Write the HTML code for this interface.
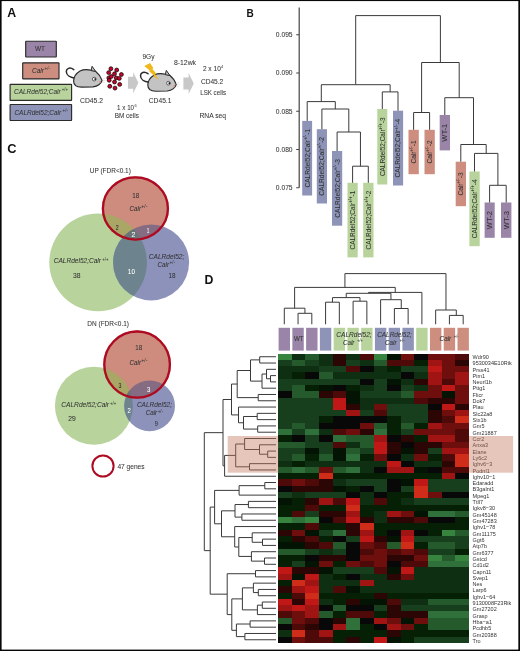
<!DOCTYPE html>
<html><head><meta charset="utf-8"><title>Figure</title>
<style>
html,body{margin:0;padding:0;background:#fff;}
body{width:520px;height:651px;overflow:hidden;}
svg{display:block;font-family:"Liberation Sans", sans-serif;will-change:transform;}
text{paint-order:stroke;}
</style></head><body>
<svg width="520" height="651" viewBox="0 0 520 651">
<defs><clipPath id="cg1"><circle cx="98.1" cy="262.4" r="48.8"/></clipPath><clipPath id="cb1"><circle cx="151.1" cy="262.5" r="38.0"/></clipPath><clipPath id="cg2"><circle cx="93.9" cy="405.8" r="39.0"/></clipPath><clipPath id="cb2"><circle cx="149.6" cy="405.9" r="25.4"/></clipPath></defs>
<rect x="0.5" y="0.5" width="519" height="650" fill="#fff" stroke="#080808" stroke-width="1"/>
<text x="7.3" y="17.3" font-size="12.3" text-anchor="start" fill="#111" font-weight="bold">A</text>
<text x="246.5" y="16.7" font-size="10" text-anchor="start" fill="#111" font-weight="bold">B</text>
<text x="7.2" y="152.8" font-size="12.8" text-anchor="start" fill="#111" font-weight="bold">C</text>
<text x="204.5" y="283.7" font-size="12.3" text-anchor="start" fill="#111" font-weight="bold">D</text>
<rect x="25.7" y="41.2" width="30.599999999999998" height="15.799999999999997" rx="0.4" fill="#9a84a8" stroke="#2b2b2b" stroke-width="1.15"/>
<rect x="22.7" y="62.8" width="36.3" height="16.10000000000001" rx="0.4" fill="#cd8e80" stroke="#2b2b2b" stroke-width="1.15"/>
<rect x="10.1" y="84.3" width="61.49999999999999" height="16.0" rx="0.4" fill="#b8d49c" stroke="#2b2b2b" stroke-width="1.15"/>
<rect x="10.1" y="104.5" width="61.49999999999999" height="16.0" rx="0.4" fill="#8e94b8" stroke="#2b2b2b" stroke-width="1.15"/>
<text x="40.0" y="51.3" font-size="6.9" text-anchor="middle" fill="#333" font-weight="normal" textLength="10.1" lengthAdjust="spacingAndGlyphs" stroke="#333" stroke-width="0.05">WT</text>
<text x="32" y="73" font-size="7.6" fill="#333" stroke="#333" stroke-width="0.05" font-style="italic" textLength="12" lengthAdjust="spacingAndGlyphs">Calr</text><text x="44.5" y="70.2" font-size="5.0" fill="#333" textLength="5.5" lengthAdjust="spacingAndGlyphs">+/-</text>
<text x="14" y="94" font-size="7.4" fill="#333" stroke="#333" stroke-width="0.05" font-style="italic" textLength="46.6" lengthAdjust="spacingAndGlyphs">CALRdel52;Calr</text><text x="61.8" y="91.2" font-size="5.0" fill="#333" textLength="6.2" lengthAdjust="spacingAndGlyphs">+/+</text>
<text x="14.4" y="114.5" font-size="7.4" fill="#333" stroke="#333" stroke-width="0.05" font-style="italic" textLength="46.8" lengthAdjust="spacingAndGlyphs">CALRdel52;Calr</text><text x="62.5" y="111.7" font-size="5.0" fill="#333" textLength="5.5" lengthAdjust="spacingAndGlyphs">+/-</text>
<g transform="translate(0,0) scale(1,1)"><path d="M74.8,78.2 C70,77.6 66.3,75 66.3,71.6 C66.3,68.6 69.6,66.6 73.8,69.6" fill="none" stroke="#2a2a2a" stroke-width="1.5" stroke-linecap="round"/><path d="M73.6,81 C73.7,77.2 76.4,73.2 80,71 C83,69.5 87,69.2 91.4,70.2 L95.5,71.2 C98.5,73.5 100.8,77 102.1,80.5 C101,83.6 98,86.2 93,86.9 L81.5,87.1 C77,87.1 73.6,85 73.6,81 Z" fill="#c3c3c3" stroke="#2a2a2a" stroke-width="1.15" stroke-linejoin="round"/><path d="M91.1,70.6 L92.1,66.3 L95.7,71.4 Z" fill="#c3c3c3" stroke="#2a2a2a" stroke-width="1" stroke-linejoin="round"/><circle cx="94.2" cy="79.1" r="1.85" fill="#f4f4f4" stroke="#2a2a2a" stroke-width="0.7"/><circle cx="95.2" cy="79.1" r="0.95" fill="#1a1a1a"/><circle cx="100.1" cy="81.8" r="0.85" fill="#e0857a"/><path d="M102,79.5 L105,78.2 M102.3,80.6 L105.3,80.6 M102,81.6 L104.8,83" stroke="#c8c8c8" stroke-width="0.45"/></g>
<g transform="translate(74.2,4.1) scale(1,1)"><path d="M74.8,78.2 C70,77.6 66.3,75 66.3,71.6 C66.3,68.6 69.6,66.6 73.8,69.6" fill="none" stroke="#2a2a2a" stroke-width="1.5" stroke-linecap="round"/><path d="M73.6,81 C73.7,77.2 76.4,73.2 80,71 C83,69.5 87,69.2 91.4,70.2 L95.5,71.2 C98.5,73.5 100.8,77 102.1,80.5 C101,83.6 98,86.2 93,86.9 L81.5,87.1 C77,87.1 73.6,85 73.6,81 Z" fill="#c3c3c3" stroke="#2a2a2a" stroke-width="1.15" stroke-linejoin="round"/><path d="M91.1,70.6 L92.1,66.3 L95.7,71.4 Z" fill="#c3c3c3" stroke="#2a2a2a" stroke-width="1" stroke-linejoin="round"/><circle cx="94.2" cy="79.1" r="1.85" fill="#f4f4f4" stroke="#2a2a2a" stroke-width="0.7"/><circle cx="95.2" cy="79.1" r="0.95" fill="#1a1a1a"/><circle cx="100.1" cy="81.8" r="0.85" fill="#e0857a"/><path d="M102,79.5 L105,78.2 M102.3,80.6 L105.3,80.6 M102,81.6 L104.8,83" stroke="#c8c8c8" stroke-width="0.45"/></g>
<circle cx="110.9" cy="68.7" r="1.95" fill="#c4062c" stroke="#140406" stroke-width="0.75"/>
<circle cx="116.7" cy="70.0" r="1.95" fill="#c4062c" stroke="#140406" stroke-width="0.75"/>
<circle cx="108.7" cy="72.6" r="1.95" fill="#c4062c" stroke="#140406" stroke-width="0.75"/>
<circle cx="114.5" cy="73.8" r="1.95" fill="#c4062c" stroke="#140406" stroke-width="0.75"/>
<circle cx="121.4" cy="74.5" r="1.95" fill="#c4062c" stroke="#140406" stroke-width="0.75"/>
<circle cx="108.8" cy="77.9" r="1.95" fill="#c4062c" stroke="#140406" stroke-width="0.75"/>
<circle cx="111.3" cy="76.5" r="1.95" fill="#c4062c" stroke="#140406" stroke-width="0.75"/>
<circle cx="116.2" cy="78.0" r="1.95" fill="#c4062c" stroke="#140406" stroke-width="0.75"/>
<circle cx="119.3" cy="78.4" r="1.95" fill="#c4062c" stroke="#140406" stroke-width="0.75"/>
<circle cx="109.2" cy="80.3" r="1.95" fill="#c4062c" stroke="#140406" stroke-width="0.75"/>
<circle cx="114.5" cy="82.0" r="1.95" fill="#c4062c" stroke="#140406" stroke-width="0.75"/>
<circle cx="119.7" cy="84.4" r="1.95" fill="#c4062c" stroke="#140406" stroke-width="0.75"/>
<circle cx="109.8" cy="86.3" r="1.95" fill="#c4062c" stroke="#140406" stroke-width="0.75"/>
<circle cx="115.0" cy="88.1" r="1.95" fill="#c4062c" stroke="#140406" stroke-width="0.75"/>
<path d="M128,76.8 L133.2,76.8 L133.2,72.3 L138.4,82.8 L133.2,93.3 L133.2,88.8 L128,88.8 Z" fill="#c8c8c8"/>
<path d="M183.4,77.4 L188.6,77.4 L188.6,72.9 L193.8,83.4 L188.6,93.9 L188.6,89.4 L183.4,89.4 Z" fill="#c8c8c8"/>
<path d="M144.3,66.1 L150.1,62.9 L153.3,68.1 L152.4,69 L156.2,73.6 L155.3,74.4 L158.8,79.9 L153.3,76.2 L153.9,75.3 L149,71.3 L149.8,70.4 Z" fill="#f0b81a"/>
<text x="80" y="102.5" font-size="7" text-anchor="start" fill="#333" font-weight="normal" textLength="23" lengthAdjust="spacingAndGlyphs" stroke="#333" stroke-width="0.05">CD45.2</text>
<text x="148.8" y="102.5" font-size="7" text-anchor="start" fill="#333" font-weight="normal" textLength="22.6" lengthAdjust="spacingAndGlyphs" stroke="#333" stroke-width="0.05">CD45.1</text>
<text x="117.1" y="110.1" font-size="6.8" fill="#333" stroke="#333" stroke-width="0.05" textLength="17" lengthAdjust="spacingAndGlyphs">1 x 10</text><text x="134.4" y="106.89999999999999" font-size="4.4" fill="#333" textLength="2.2" lengthAdjust="spacingAndGlyphs">6</text>
<text x="114.7" y="118.2" font-size="7" text-anchor="start" fill="#333" font-weight="normal" textLength="24.2" lengthAdjust="spacingAndGlyphs" stroke="#333" stroke-width="0.05">BM cells</text>
<text x="142.4" y="58.9" font-size="7" text-anchor="start" fill="#333" font-weight="normal" textLength="12.1" lengthAdjust="spacingAndGlyphs" stroke="#333" stroke-width="0.05">9Gy</text>
<text x="174" y="65.2" font-size="6.9" text-anchor="start" fill="#333" font-weight="normal" textLength="22" lengthAdjust="spacingAndGlyphs" stroke="#333" stroke-width="0.05">8-12wk</text>
<text x="202.9" y="71.1" font-size="6.8" fill="#333" stroke="#333" stroke-width="0.05" textLength="17.9" lengthAdjust="spacingAndGlyphs">2 x 10</text><text x="221.1" y="67.89999999999999" font-size="4.4" fill="#333" textLength="2.3" lengthAdjust="spacingAndGlyphs">4</text>
<text x="200.9" y="83.5" font-size="7.2" text-anchor="start" fill="#333" font-weight="normal" textLength="22.4" lengthAdjust="spacingAndGlyphs" stroke="#333" stroke-width="0.05">CD45.2</text>
<text x="200.2" y="95" font-size="7.2" text-anchor="start" fill="#333" font-weight="normal" textLength="25.8" lengthAdjust="spacingAndGlyphs" stroke="#333" stroke-width="0.05">LSK cells</text>
<text x="199.5" y="117.6" font-size="7.2" text-anchor="start" fill="#333" font-weight="normal" textLength="26.5" lengthAdjust="spacingAndGlyphs" stroke="#333" stroke-width="0.05">RNA seq</text>
<line x1="299.2" y1="7.5" x2="299.2" y2="187.8" stroke="#444" stroke-width="1.2"/>
<line x1="296.2" y1="34.75" x2="299.2" y2="34.75" stroke="#444" stroke-width="1"/>
<text x="292.6" y="37.15" font-size="6.8" text-anchor="end" fill="#333" font-weight="normal" textLength="16.8" lengthAdjust="spacingAndGlyphs" stroke="#333" stroke-width="0.05">0.095</text>
<line x1="296.2" y1="73.0" x2="299.2" y2="73.0" stroke="#444" stroke-width="1"/>
<text x="292.6" y="75.4" font-size="6.8" text-anchor="end" fill="#333" font-weight="normal" textLength="16.8" lengthAdjust="spacingAndGlyphs" stroke="#333" stroke-width="0.05">0.090</text>
<line x1="296.2" y1="111.25" x2="299.2" y2="111.25" stroke="#444" stroke-width="1"/>
<text x="292.6" y="113.65" font-size="6.8" text-anchor="end" fill="#333" font-weight="normal" textLength="16.8" lengthAdjust="spacingAndGlyphs" stroke="#333" stroke-width="0.05">0.085</text>
<line x1="296.2" y1="149.5" x2="299.2" y2="149.5" stroke="#444" stroke-width="1"/>
<text x="292.6" y="151.9" font-size="6.8" text-anchor="end" fill="#333" font-weight="normal" textLength="16.8" lengthAdjust="spacingAndGlyphs" stroke="#333" stroke-width="0.05">0.080</text>
<line x1="296.2" y1="187.75" x2="299.2" y2="187.75" stroke="#444" stroke-width="1"/>
<text x="292.6" y="190.15" font-size="6.8" text-anchor="end" fill="#333" font-weight="normal" textLength="16.8" lengthAdjust="spacingAndGlyphs" stroke="#333" stroke-width="0.05">0.075</text>
<rect x="302.2" y="120.9" width="9.90" height="74.60" fill="#8e94b8"/>
<text transform="translate(309.60,158.20) rotate(-90)" x="-29.35" y="0" font-size="6.8" fill="#333" stroke="#333" stroke-width="0.05" textLength="58.7" lengthAdjust="spacingAndGlyphs">CALRdel52;Calr<tspan font-size="4.6" dy="-2.9">+/-</tspan><tspan dy="2.9">-1</tspan></text>
<rect x="316.8" y="129.2" width="10.20" height="74.30" fill="#8e94b8"/>
<text transform="translate(324.30,166.35) rotate(-90)" x="-29.35" y="0" font-size="6.8" fill="#333" stroke="#333" stroke-width="0.05" textLength="58.7" lengthAdjust="spacingAndGlyphs">CALRdel52;Calr<tspan font-size="4.6" dy="-2.9">+/-</tspan><tspan dy="2.9">-2</tspan></text>
<rect x="332.0" y="151.0" width="10.20" height="74.70" fill="#8e94b8"/>
<text transform="translate(339.50,188.35) rotate(-90)" x="-29.35" y="0" font-size="6.8" fill="#333" stroke="#333" stroke-width="0.05" textLength="58.7" lengthAdjust="spacingAndGlyphs">CALRdel52;Calr<tspan font-size="4.6" dy="-2.9">+/-</tspan><tspan dy="2.9">-3</tspan></text>
<rect x="347.5" y="182.8" width="10.20" height="74.60" fill="#b8d49c"/>
<text transform="translate(355.00,220.10) rotate(-90)" x="-29.35" y="0" font-size="6.8" fill="#333" stroke="#333" stroke-width="0.05" textLength="58.7" lengthAdjust="spacingAndGlyphs">CALRdel52;Calr<tspan font-size="4.6" dy="-2.9">+/+</tspan><tspan dy="2.9">-1</tspan></text>
<rect x="363.2" y="182.8" width="10.30" height="74.60" fill="#b8d49c"/>
<text transform="translate(370.70,220.10) rotate(-90)" x="-29.35" y="0" font-size="6.8" fill="#333" stroke="#333" stroke-width="0.05" textLength="58.7" lengthAdjust="spacingAndGlyphs">CALRdel52;Calr<tspan font-size="4.6" dy="-2.9">+/+</tspan><tspan dy="2.9">-2</tspan></text>
<rect x="377.3" y="109.0" width="10.00" height="75.50" fill="#b8d49c"/>
<text transform="translate(384.70,146.75) rotate(-90)" x="-29.35" y="0" font-size="6.8" fill="#333" stroke="#333" stroke-width="0.05" textLength="58.7" lengthAdjust="spacingAndGlyphs">CALRdel52;Calr<tspan font-size="4.6" dy="-2.9">+/+</tspan><tspan dy="2.9">-3</tspan></text>
<rect x="393.0" y="110.7" width="10.10" height="74.80" fill="#8e94b8"/>
<text transform="translate(400.40,148.10) rotate(-90)" x="-29.35" y="0" font-size="6.8" fill="#333" stroke="#333" stroke-width="0.05" textLength="58.7" lengthAdjust="spacingAndGlyphs">CALRdel52;Calr<tspan font-size="4.6" dy="-2.9">+/-</tspan><tspan dy="2.9">-4</tspan></text>
<rect x="408.5" y="129.8" width="10.30" height="44.40" fill="#cd8e80"/>
<text transform="translate(416.00,152.00) rotate(-90)" x="-11.55" y="0" font-size="6.8" fill="#333" stroke="#333" stroke-width="0.05" textLength="23.1" lengthAdjust="spacingAndGlyphs">Calr<tspan font-size="4.6" dy="-2.9">+/-</tspan><tspan dy="2.9">-1</tspan></text>
<rect x="424.5" y="129.8" width="10.30" height="44.40" fill="#cd8e80"/>
<text transform="translate(432.00,152.00) rotate(-90)" x="-11.55" y="0" font-size="6.8" fill="#333" stroke="#333" stroke-width="0.05" textLength="23.1" lengthAdjust="spacingAndGlyphs">Calr<tspan font-size="4.6" dy="-2.9">+/-</tspan><tspan dy="2.9">-2</tspan></text>
<rect x="439.7" y="115.0" width="10.30" height="35.40" fill="#9a84a8"/>
<text transform="translate(447.20,132.70) rotate(-90)" x="-9.00" y="0" font-size="6.8" fill="#333" stroke="#333" stroke-width="0.05" textLength="18.0" lengthAdjust="spacingAndGlyphs">WT-1</text>
<rect x="455.7" y="161.7" width="10.30" height="44.50" fill="#cd8e80"/>
<text transform="translate(463.20,183.95) rotate(-90)" x="-11.55" y="0" font-size="6.8" fill="#333" stroke="#333" stroke-width="0.05" textLength="23.1" lengthAdjust="spacingAndGlyphs">Calr<tspan font-size="4.6" dy="-2.9">+/-</tspan><tspan dy="2.9">-3</tspan></text>
<rect x="469.4" y="171.5" width="10.30" height="74.70" fill="#b8d49c"/>
<text transform="translate(476.90,208.85) rotate(-90)" x="-29.35" y="0" font-size="6.8" fill="#333" stroke="#333" stroke-width="0.05" textLength="58.7" lengthAdjust="spacingAndGlyphs">CALRdel52;Calr<tspan font-size="4.6" dy="-2.9">+/+</tspan><tspan dy="2.9">-4</tspan></text>
<rect x="484.6" y="202.5" width="10.10" height="35.30" fill="#9a84a8"/>
<text transform="translate(492.00,220.15) rotate(-90)" x="-9.00" y="0" font-size="6.8" fill="#333" stroke="#333" stroke-width="0.05" textLength="18.0" lengthAdjust="spacingAndGlyphs">WT-2</text>
<rect x="501.0" y="202.5" width="10.40" height="35.30" fill="#9a84a8"/>
<text transform="translate(508.60,220.15) rotate(-90)" x="-9.00" y="0" font-size="6.8" fill="#333" stroke="#333" stroke-width="0.05" textLength="18.0" lengthAdjust="spacingAndGlyphs">WT-3</text>
<path d="M352.6,182.8 L352.6,166.2 L368.3,166.2 L368.3,182.8" fill="none" stroke="#3a3a3a" stroke-width="1"/>
<path d="M337.1,151.0 L337.1,132.0 L360.45,132.0 L360.45,166.2" fill="none" stroke="#3a3a3a" stroke-width="1"/>
<path d="M321.9,129.2 L321.9,109.0 L348.8,109.0 L348.8,132.0" fill="none" stroke="#3a3a3a" stroke-width="1"/>
<path d="M307.2,120.9 L307.2,101.6 L335.3,101.6 L335.3,109.0" fill="none" stroke="#3a3a3a" stroke-width="1"/>
<path d="M382.3,109.0 L382.3,91.9 L398.0,91.9 L398.0,110.7" fill="none" stroke="#3a3a3a" stroke-width="1"/>
<path d="M321.3,101.6 L321.3,84.7 L390.15,84.7 L390.15,91.9" fill="none" stroke="#3a3a3a" stroke-width="1"/>
<path d="M413.6,129.8 L413.6,112.5 L429.6,112.5 L429.6,129.8" fill="none" stroke="#3a3a3a" stroke-width="1"/>
<path d="M489.6,202.5 L489.6,185.3 L506.2,185.3 L506.2,202.5" fill="none" stroke="#3a3a3a" stroke-width="1"/>
<path d="M474.5,171.5 L474.5,153.4 L497.9,153.4 L497.9,185.3" fill="none" stroke="#3a3a3a" stroke-width="1"/>
<path d="M460.8,161.7 L460.8,144.5 L486.2,144.5 L486.2,153.4" fill="none" stroke="#3a3a3a" stroke-width="1"/>
<path d="M444.8,115.0 L444.8,97.7 L473.5,97.7 L473.5,144.5" fill="none" stroke="#3a3a3a" stroke-width="1"/>
<path d="M421.6,112.5 L421.6,62.5 L459.2,62.5 L459.2,97.7" fill="none" stroke="#3a3a3a" stroke-width="1"/>
<path d="M355.7,84.7 L355.7,15.6 L440.4,15.6 L440.4,62.5" fill="none" stroke="#3a3a3a" stroke-width="1"/>
<circle cx="98.1" cy="262.4" r="48.8" fill="#b8d49c"/><circle cx="151.1" cy="262.5" r="38.0" fill="#8d92bb"/><ellipse cx="135.4" cy="208.45" rx="33.65" ry="32.25" fill="#cd8c7e"/><g clip-path="url(#cg1)"><circle cx="151.1" cy="262.5" r="38.0" fill="#6d848f"/><ellipse cx="135.4" cy="208.45" rx="33.65" ry="32.25" fill="#a9a666"/></g><g clip-path="url(#cb1)"><ellipse cx="135.4" cy="208.45" rx="33.65" ry="32.25" fill="#866c82"/></g><g clip-path="url(#cg1)"><g clip-path="url(#cb1)"><ellipse cx="135.4" cy="208.45" rx="33.65" ry="32.25" fill="#687478"/></g></g><ellipse cx="135.4" cy="208.45" rx="32.5" ry="31.1" fill="none" stroke="#ae0b22" stroke-width="2.3"/>
<circle cx="93.9" cy="405.8" r="39.0" fill="#b8d49c"/><circle cx="149.6" cy="405.9" r="25.4" fill="#8d92bb"/><ellipse cx="137.1" cy="364.6" rx="33.949999999999996" ry="34.25" fill="#cd8c7e"/><g clip-path="url(#cg2)"><circle cx="149.6" cy="405.9" r="25.4" fill="#6d848f"/><ellipse cx="137.1" cy="364.6" rx="33.949999999999996" ry="34.25" fill="#a9a666"/></g><g clip-path="url(#cb2)"><ellipse cx="137.1" cy="364.6" rx="33.949999999999996" ry="34.25" fill="#866c82"/></g><g clip-path="url(#cg2)"><g clip-path="url(#cb2)"><ellipse cx="137.1" cy="364.6" rx="33.949999999999996" ry="34.25" fill="#687478"/></g></g><ellipse cx="137.1" cy="364.6" rx="32.8" ry="33.1" fill="none" stroke="#ae0b22" stroke-width="2.3"/>
<text x="89.8" y="172.6" font-size="6.6" text-anchor="start" fill="#333" font-weight="normal" textLength="41" lengthAdjust="spacingAndGlyphs" stroke="#333" stroke-width="0.05">UP (FDR&lt;0.1)</text>
<text x="132.2" y="197.6" font-size="6.7" text-anchor="start" fill="#333" font-weight="normal" textLength="7" lengthAdjust="spacingAndGlyphs" stroke="#333" stroke-width="0.05">18</text>
<text x="129.6" y="210.6" font-size="7.2" fill="#333" stroke="#333" stroke-width="0.05" font-style="italic" textLength="11.5" lengthAdjust="spacingAndGlyphs">Calr</text><text x="141.3" y="208.0" font-size="5.0" fill="#333" textLength="6.3" lengthAdjust="spacingAndGlyphs">+/-</text>
<text x="115.8" y="230.1" font-size="6.4" text-anchor="start" fill="#2a2a2a" font-weight="normal" textLength="2.9" lengthAdjust="spacingAndGlyphs" stroke="#2a2a2a" stroke-width="0.05">2</text>
<text x="131.4" y="236.6" font-size="6.7" text-anchor="start" fill="#fff" font-weight="normal" textLength="3.8" lengthAdjust="spacingAndGlyphs" stroke="#fff" stroke-width="0.05">2</text>
<text x="146.8" y="233.0" font-size="6.5" text-anchor="start" fill="#fff" font-weight="normal" textLength="2.6" lengthAdjust="spacingAndGlyphs" stroke="#fff" stroke-width="0.05">1</text>
<text x="53.7" y="263.4" font-size="7.6" fill="#333" stroke="#333" stroke-width="0.05" font-style="italic" textLength="47.3" lengthAdjust="spacingAndGlyphs">CALRdel52;Calr</text><text x="102.2" y="260.79999999999995" font-size="5.0" fill="#333" textLength="6.2" lengthAdjust="spacingAndGlyphs">+/+</text>
<text x="73" y="278.0" font-size="6.8" text-anchor="start" fill="#333" font-weight="normal" textLength="7.5" lengthAdjust="spacingAndGlyphs" stroke="#333" stroke-width="0.05">38</text>
<text x="127.8" y="274.0" font-size="6.7" text-anchor="start" fill="#fff" font-weight="normal" textLength="7.2" lengthAdjust="spacingAndGlyphs" stroke="#fff" stroke-width="0.05">10</text>
<text x="148.8" y="258.7" font-size="7.6" fill="#333" stroke="#333" stroke-width="0.05" font-style="italic" textLength="35.5" lengthAdjust="spacingAndGlyphs">CALRdel52;</text>
<text x="157.6" y="266.9" font-size="7.2" fill="#333" stroke="#333" stroke-width="0.05" font-style="italic" textLength="11.5" lengthAdjust="spacingAndGlyphs">Calr</text><text x="169.6" y="264.29999999999995" font-size="5.0" fill="#333" textLength="5.6" lengthAdjust="spacingAndGlyphs">+/-</text>
<text x="168.4" y="278.0" font-size="6.8" text-anchor="start" fill="#333" font-weight="normal" textLength="7" lengthAdjust="spacingAndGlyphs" stroke="#333" stroke-width="0.05">18</text>
<text x="87.3" y="326.3" font-size="6.6" text-anchor="start" fill="#333" font-weight="normal" textLength="41.7" lengthAdjust="spacingAndGlyphs" stroke="#333" stroke-width="0.05">DN (FDR&lt;0.1)</text>
<text x="135.2" y="350.2" font-size="6.7" text-anchor="start" fill="#333" font-weight="normal" textLength="6.9" lengthAdjust="spacingAndGlyphs" stroke="#333" stroke-width="0.05">18</text>
<text x="129.6" y="364.6" font-size="7.2" fill="#333" stroke="#333" stroke-width="0.05" font-style="italic" textLength="11.5" lengthAdjust="spacingAndGlyphs">Calr</text><text x="141.3" y="362.0" font-size="5.0" fill="#333" textLength="6.3" lengthAdjust="spacingAndGlyphs">+/-</text>
<text x="118.5" y="387.7" font-size="6.7" text-anchor="start" fill="#2a2a2a" font-weight="normal" textLength="2.9" lengthAdjust="spacingAndGlyphs" stroke="#2a2a2a" stroke-width="0.05">3</text>
<text x="146.9" y="392.3" font-size="6.8" text-anchor="start" fill="#fff" font-weight="normal" textLength="3.3" lengthAdjust="spacingAndGlyphs" stroke="#fff" stroke-width="0.05">3</text>
<text x="127.5" y="412.5" font-size="6.8" text-anchor="start" fill="#fff" font-weight="normal" textLength="3.3" lengthAdjust="spacingAndGlyphs" stroke="#fff" stroke-width="0.05">2</text>
<text x="61.25" y="407.4" font-size="7.6" fill="#333" stroke="#333" stroke-width="0.05" font-style="italic" textLength="47.8" lengthAdjust="spacingAndGlyphs">CALRdel52;Calr</text><text x="110.1" y="404.79999999999995" font-size="5.0" fill="#333" textLength="6.2" lengthAdjust="spacingAndGlyphs">+/+</text>
<text x="68.25" y="420.5" font-size="6.8" text-anchor="start" fill="#333" font-weight="normal" textLength="7.5" lengthAdjust="spacingAndGlyphs" stroke="#333" stroke-width="0.05">29</text>
<text x="136.9" y="407.2" font-size="7.6" fill="#333" stroke="#333" stroke-width="0.05" font-style="italic" textLength="35.1" lengthAdjust="spacingAndGlyphs">CALRdel52;</text>
<text x="145.7" y="415.1" font-size="7.2" fill="#333" stroke="#333" stroke-width="0.05" font-style="italic" textLength="11.5" lengthAdjust="spacingAndGlyphs">Calr</text><text x="157.7" y="412.5" font-size="5.0" fill="#333" textLength="5.5" lengthAdjust="spacingAndGlyphs">+/-</text>
<text x="154.7" y="426.2" font-size="6.6" text-anchor="start" fill="#333" font-weight="normal" textLength="3.2" lengthAdjust="spacingAndGlyphs" stroke="#333" stroke-width="0.05">9</text>
<circle cx="103" cy="466" r="10.6" fill="#fff" stroke="#ae0b22" stroke-width="2"/>
<text x="117.4" y="469.2" font-size="7" text-anchor="start" fill="#333" font-weight="normal" textLength="27.2" lengthAdjust="spacingAndGlyphs" stroke="#333" stroke-width="0.05">47 genes</text>
<g shape-rendering="crispEdges"><rect x="278.20" y="353.60" width="13.68" height="6.34" fill="#37843f"/><rect x="291.83" y="353.60" width="13.68" height="6.34" fill="#0f2f13"/><rect x="305.46" y="353.60" width="13.68" height="6.34" fill="#255b2c"/><rect x="319.09" y="353.60" width="13.68" height="6.34" fill="#0f2f13"/><rect x="332.71" y="353.60" width="13.68" height="6.34" fill="#2c0505"/><rect x="346.34" y="353.60" width="13.68" height="6.34" fill="#0f2f13"/><rect x="359.97" y="353.60" width="13.68" height="6.34" fill="#4e0909"/><rect x="373.60" y="353.60" width="13.68" height="6.34" fill="#37843f"/><rect x="387.23" y="353.60" width="13.68" height="6.34" fill="#031405"/><rect x="400.86" y="353.60" width="13.68" height="6.34" fill="#6e0e0d"/><rect x="414.49" y="353.60" width="13.68" height="6.34" fill="#080808"/><rect x="428.11" y="353.60" width="13.68" height="6.34" fill="#6e0e0d"/><rect x="441.74" y="353.60" width="13.68" height="6.34" fill="#6e0e0d"/><rect x="455.37" y="353.60" width="13.68" height="6.34" fill="#4e0909"/><rect x="278.20" y="359.89" width="13.68" height="6.34" fill="#173f1d"/><rect x="291.83" y="359.89" width="13.68" height="6.34" fill="#255b2c"/><rect x="305.46" y="359.89" width="13.68" height="6.34" fill="#173f1d"/><rect x="319.09" y="359.89" width="13.68" height="6.34" fill="#0f2f13"/><rect x="332.71" y="359.89" width="13.68" height="6.34" fill="#2c0505"/><rect x="346.34" y="359.89" width="13.68" height="6.34" fill="#173f1d"/><rect x="359.97" y="359.89" width="13.68" height="6.34" fill="#0f2f13"/><rect x="373.60" y="359.89" width="13.68" height="6.34" fill="#255b2c"/><rect x="387.23" y="359.89" width="13.68" height="6.34" fill="#4e0909"/><rect x="400.86" y="359.89" width="13.68" height="6.34" fill="#4e0909"/><rect x="414.49" y="359.89" width="13.68" height="6.34" fill="#062006"/><rect x="428.11" y="359.89" width="13.68" height="6.34" fill="#a01513"/><rect x="441.74" y="359.89" width="13.68" height="6.34" fill="#6e0e0d"/><rect x="455.37" y="359.89" width="13.68" height="6.34" fill="#2c0505"/><rect x="278.20" y="366.18" width="13.68" height="6.34" fill="#0f2f13"/><rect x="291.83" y="366.18" width="13.68" height="6.34" fill="#0f2f13"/><rect x="305.46" y="366.18" width="13.68" height="6.34" fill="#0f2f13"/><rect x="319.09" y="366.18" width="13.68" height="6.34" fill="#173f1d"/><rect x="332.71" y="366.18" width="13.68" height="6.34" fill="#173f1d"/><rect x="346.34" y="366.18" width="13.68" height="6.34" fill="#4e0909"/><rect x="359.97" y="366.18" width="13.68" height="6.34" fill="#080808"/><rect x="373.60" y="366.18" width="13.68" height="6.34" fill="#0f2f13"/><rect x="387.23" y="366.18" width="13.68" height="6.34" fill="#062006"/><rect x="400.86" y="366.18" width="13.68" height="6.34" fill="#173f1d"/><rect x="414.49" y="366.18" width="13.68" height="6.34" fill="#173f1d"/><rect x="428.11" y="366.18" width="13.68" height="6.34" fill="#c01816"/><rect x="441.74" y="366.18" width="13.68" height="6.34" fill="#6e0e0d"/><rect x="455.37" y="366.18" width="13.68" height="6.34" fill="#6e0e0d"/><rect x="278.20" y="372.47" width="13.68" height="6.34" fill="#0f2f13"/><rect x="291.83" y="372.47" width="13.68" height="6.34" fill="#062006"/><rect x="305.46" y="372.47" width="13.68" height="6.34" fill="#080808"/><rect x="319.09" y="372.47" width="13.68" height="6.34" fill="#255b2c"/><rect x="332.71" y="372.47" width="13.68" height="6.34" fill="#0f2f13"/><rect x="346.34" y="372.47" width="13.68" height="6.34" fill="#0f2f13"/><rect x="359.97" y="372.47" width="13.68" height="6.34" fill="#0f2f13"/><rect x="373.60" y="372.47" width="13.68" height="6.34" fill="#0f2f13"/><rect x="387.23" y="372.47" width="13.68" height="6.34" fill="#0f2f13"/><rect x="400.86" y="372.47" width="13.68" height="6.34" fill="#080808"/><rect x="414.49" y="372.47" width="13.68" height="6.34" fill="#0f2f13"/><rect x="428.11" y="372.47" width="13.68" height="6.34" fill="#a01513"/><rect x="441.74" y="372.47" width="13.68" height="6.34" fill="#6e0e0d"/><rect x="455.37" y="372.47" width="13.68" height="6.34" fill="#a01513"/><rect x="278.20" y="378.76" width="13.68" height="6.34" fill="#173f1d"/><rect x="291.83" y="378.76" width="13.68" height="6.34" fill="#173f1d"/><rect x="305.46" y="378.76" width="13.68" height="6.34" fill="#173f1d"/><rect x="319.09" y="378.76" width="13.68" height="6.34" fill="#173f1d"/><rect x="332.71" y="378.76" width="13.68" height="6.34" fill="#173f1d"/><rect x="346.34" y="378.76" width="13.68" height="6.34" fill="#173f1d"/><rect x="359.97" y="378.76" width="13.68" height="6.34" fill="#080808"/><rect x="373.60" y="378.76" width="13.68" height="6.34" fill="#173f1d"/><rect x="387.23" y="378.76" width="13.68" height="6.34" fill="#031405"/><rect x="400.86" y="378.76" width="13.68" height="6.34" fill="#0f2f13"/><rect x="414.49" y="378.76" width="13.68" height="6.34" fill="#2c0505"/><rect x="428.11" y="378.76" width="13.68" height="6.34" fill="#a01513"/><rect x="441.74" y="378.76" width="13.68" height="6.34" fill="#4e0909"/><rect x="455.37" y="378.76" width="13.68" height="6.34" fill="#a01513"/><rect x="278.20" y="385.05" width="13.68" height="6.34" fill="#173f1d"/><rect x="291.83" y="385.05" width="13.68" height="6.34" fill="#255b2c"/><rect x="305.46" y="385.05" width="13.68" height="6.34" fill="#062006"/><rect x="319.09" y="385.05" width="13.68" height="6.34" fill="#031405"/><rect x="332.71" y="385.05" width="13.68" height="6.34" fill="#080808"/><rect x="346.34" y="385.05" width="13.68" height="6.34" fill="#062006"/><rect x="359.97" y="385.05" width="13.68" height="6.34" fill="#0f2f13"/><rect x="373.60" y="385.05" width="13.68" height="6.34" fill="#173f1d"/><rect x="387.23" y="385.05" width="13.68" height="6.34" fill="#080808"/><rect x="400.86" y="385.05" width="13.68" height="6.34" fill="#173f1d"/><rect x="414.49" y="385.05" width="13.68" height="6.34" fill="#0f2f13"/><rect x="428.11" y="385.05" width="13.68" height="6.34" fill="#6e0e0d"/><rect x="441.74" y="385.05" width="13.68" height="6.34" fill="#c01816"/><rect x="455.37" y="385.05" width="13.68" height="6.34" fill="#6e0e0d"/><rect x="278.20" y="391.33" width="13.68" height="6.34" fill="#080808"/><rect x="291.83" y="391.33" width="13.68" height="6.34" fill="#255b2c"/><rect x="305.46" y="391.33" width="13.68" height="6.34" fill="#255b2c"/><rect x="319.09" y="391.33" width="13.68" height="6.34" fill="#2c0505"/><rect x="332.71" y="391.33" width="13.68" height="6.34" fill="#4e0909"/><rect x="346.34" y="391.33" width="13.68" height="6.34" fill="#031405"/><rect x="359.97" y="391.33" width="13.68" height="6.34" fill="#173f1d"/><rect x="373.60" y="391.33" width="13.68" height="6.34" fill="#173f1d"/><rect x="387.23" y="391.33" width="13.68" height="6.34" fill="#173f1d"/><rect x="400.86" y="391.33" width="13.68" height="6.34" fill="#255b2c"/><rect x="414.49" y="391.33" width="13.68" height="6.34" fill="#6e0e0d"/><rect x="428.11" y="391.33" width="13.68" height="6.34" fill="#6e0e0d"/><rect x="441.74" y="391.33" width="13.68" height="6.34" fill="#031405"/><rect x="455.37" y="391.33" width="13.68" height="6.34" fill="#6e0e0d"/><rect x="278.20" y="397.62" width="13.68" height="6.34" fill="#173f1d"/><rect x="291.83" y="397.62" width="13.68" height="6.34" fill="#173f1d"/><rect x="305.46" y="397.62" width="13.68" height="6.34" fill="#173f1d"/><rect x="319.09" y="397.62" width="13.68" height="6.34" fill="#173f1d"/><rect x="332.71" y="397.62" width="13.68" height="6.34" fill="#c01816"/><rect x="346.34" y="397.62" width="13.68" height="6.34" fill="#031405"/><rect x="359.97" y="397.62" width="13.68" height="6.34" fill="#0f2f13"/><rect x="373.60" y="397.62" width="13.68" height="6.34" fill="#0f2f13"/><rect x="387.23" y="397.62" width="13.68" height="6.34" fill="#0f2f13"/><rect x="400.86" y="397.62" width="13.68" height="6.34" fill="#0f2f13"/><rect x="414.49" y="397.62" width="13.68" height="6.34" fill="#4e0909"/><rect x="428.11" y="397.62" width="13.68" height="6.34" fill="#2c0505"/><rect x="441.74" y="397.62" width="13.68" height="6.34" fill="#2c0505"/><rect x="455.37" y="397.62" width="13.68" height="6.34" fill="#6e0e0d"/><rect x="278.20" y="403.91" width="13.68" height="6.34" fill="#173f1d"/><rect x="291.83" y="403.91" width="13.68" height="6.34" fill="#173f1d"/><rect x="305.46" y="403.91" width="13.68" height="6.34" fill="#173f1d"/><rect x="319.09" y="403.91" width="13.68" height="6.34" fill="#173f1d"/><rect x="332.71" y="403.91" width="13.68" height="6.34" fill="#c01816"/><rect x="346.34" y="403.91" width="13.68" height="6.34" fill="#2c0505"/><rect x="359.97" y="403.91" width="13.68" height="6.34" fill="#0f2f13"/><rect x="373.60" y="403.91" width="13.68" height="6.34" fill="#6e0e0d"/><rect x="387.23" y="403.91" width="13.68" height="6.34" fill="#173f1d"/><rect x="400.86" y="403.91" width="13.68" height="6.34" fill="#173f1d"/><rect x="414.49" y="403.91" width="13.68" height="6.34" fill="#173f1d"/><rect x="428.11" y="403.91" width="13.68" height="6.34" fill="#080808"/><rect x="441.74" y="403.91" width="13.68" height="6.34" fill="#c01816"/><rect x="455.37" y="403.91" width="13.68" height="6.34" fill="#2c0505"/><rect x="278.20" y="410.20" width="13.68" height="6.34" fill="#173f1d"/><rect x="291.83" y="410.20" width="13.68" height="6.34" fill="#173f1d"/><rect x="305.46" y="410.20" width="13.68" height="6.34" fill="#173f1d"/><rect x="319.09" y="410.20" width="13.68" height="6.34" fill="#173f1d"/><rect x="332.71" y="410.20" width="13.68" height="6.34" fill="#173f1d"/><rect x="346.34" y="410.20" width="13.68" height="6.34" fill="#a01513"/><rect x="359.97" y="410.20" width="13.68" height="6.34" fill="#173f1d"/><rect x="373.60" y="410.20" width="13.68" height="6.34" fill="#4e0909"/><rect x="387.23" y="410.20" width="13.68" height="6.34" fill="#173f1d"/><rect x="400.86" y="410.20" width="13.68" height="6.34" fill="#173f1d"/><rect x="414.49" y="410.20" width="13.68" height="6.34" fill="#173f1d"/><rect x="428.11" y="410.20" width="13.68" height="6.34" fill="#2c0505"/><rect x="441.74" y="410.20" width="13.68" height="6.34" fill="#6e0e0d"/><rect x="455.37" y="410.20" width="13.68" height="6.34" fill="#a01513"/><rect x="278.20" y="416.49" width="13.68" height="6.34" fill="#173f1d"/><rect x="291.83" y="416.49" width="13.68" height="6.34" fill="#173f1d"/><rect x="305.46" y="416.49" width="13.68" height="6.34" fill="#173f1d"/><rect x="319.09" y="416.49" width="13.68" height="6.34" fill="#062006"/><rect x="332.71" y="416.49" width="13.68" height="6.34" fill="#080808"/><rect x="346.34" y="416.49" width="13.68" height="6.34" fill="#080808"/><rect x="359.97" y="416.49" width="13.68" height="6.34" fill="#080808"/><rect x="373.60" y="416.49" width="13.68" height="6.34" fill="#080808"/><rect x="387.23" y="416.49" width="13.68" height="6.34" fill="#062006"/><rect x="400.86" y="416.49" width="13.68" height="6.34" fill="#173f1d"/><rect x="414.49" y="416.49" width="13.68" height="6.34" fill="#173f1d"/><rect x="428.11" y="416.49" width="13.68" height="6.34" fill="#2c0505"/><rect x="441.74" y="416.49" width="13.68" height="6.34" fill="#4e0909"/><rect x="455.37" y="416.49" width="13.68" height="6.34" fill="#d02c1a"/><rect x="278.20" y="422.78" width="13.68" height="6.34" fill="#173f1d"/><rect x="291.83" y="422.78" width="13.68" height="6.34" fill="#255b2c"/><rect x="305.46" y="422.78" width="13.68" height="6.34" fill="#173f1d"/><rect x="319.09" y="422.78" width="13.68" height="6.34" fill="#080808"/><rect x="332.71" y="422.78" width="13.68" height="6.34" fill="#080808"/><rect x="346.34" y="422.78" width="13.68" height="6.34" fill="#080808"/><rect x="359.97" y="422.78" width="13.68" height="6.34" fill="#6e0e0d"/><rect x="373.60" y="422.78" width="13.68" height="6.34" fill="#255b2c"/><rect x="387.23" y="422.78" width="13.68" height="6.34" fill="#062006"/><rect x="400.86" y="422.78" width="13.68" height="6.34" fill="#255b2c"/><rect x="414.49" y="422.78" width="13.68" height="6.34" fill="#062006"/><rect x="428.11" y="422.78" width="13.68" height="6.34" fill="#a01513"/><rect x="441.74" y="422.78" width="13.68" height="6.34" fill="#6e0e0d"/><rect x="455.37" y="422.78" width="13.68" height="6.34" fill="#6e0e0d"/><rect x="278.20" y="429.07" width="13.68" height="6.34" fill="#30703a"/><rect x="291.83" y="429.07" width="13.68" height="6.34" fill="#173f1d"/><rect x="305.46" y="429.07" width="13.68" height="6.34" fill="#30703a"/><rect x="319.09" y="429.07" width="13.68" height="6.34" fill="#0f2f13"/><rect x="332.71" y="429.07" width="13.68" height="6.34" fill="#4e0909"/><rect x="346.34" y="429.07" width="13.68" height="6.34" fill="#6e0e0d"/><rect x="359.97" y="429.07" width="13.68" height="6.34" fill="#2c0505"/><rect x="373.60" y="429.07" width="13.68" height="6.34" fill="#30703a"/><rect x="387.23" y="429.07" width="13.68" height="6.34" fill="#062006"/><rect x="400.86" y="429.07" width="13.68" height="6.34" fill="#173f1d"/><rect x="414.49" y="429.07" width="13.68" height="6.34" fill="#6e0e0d"/><rect x="428.11" y="429.07" width="13.68" height="6.34" fill="#6e0e0d"/><rect x="441.74" y="429.07" width="13.68" height="6.34" fill="#6e0e0d"/><rect x="455.37" y="429.07" width="13.68" height="6.34" fill="#4e0909"/><rect x="278.20" y="435.36" width="13.68" height="6.34" fill="#062006"/><rect x="291.83" y="435.36" width="13.68" height="6.34" fill="#080808"/><rect x="305.46" y="435.36" width="13.68" height="6.34" fill="#173f1d"/><rect x="319.09" y="435.36" width="13.68" height="6.34" fill="#080808"/><rect x="332.71" y="435.36" width="13.68" height="6.34" fill="#30703a"/><rect x="346.34" y="435.36" width="13.68" height="6.34" fill="#255b2c"/><rect x="359.97" y="435.36" width="13.68" height="6.34" fill="#255b2c"/><rect x="373.60" y="435.36" width="13.68" height="6.34" fill="#a01513"/><rect x="387.23" y="435.36" width="13.68" height="6.34" fill="#080808"/><rect x="400.86" y="435.36" width="13.68" height="6.34" fill="#2c0505"/><rect x="414.49" y="435.36" width="13.68" height="6.34" fill="#062006"/><rect x="428.11" y="435.36" width="13.68" height="6.34" fill="#a01513"/><rect x="441.74" y="435.36" width="13.68" height="6.34" fill="#a01513"/><rect x="455.37" y="435.36" width="13.68" height="6.34" fill="#4e0909"/><rect x="278.20" y="441.65" width="13.68" height="6.34" fill="#255b2c"/><rect x="291.83" y="441.65" width="13.68" height="6.34" fill="#255b2c"/><rect x="305.46" y="441.65" width="13.68" height="6.34" fill="#173f1d"/><rect x="319.09" y="441.65" width="13.68" height="6.34" fill="#173f1d"/><rect x="332.71" y="441.65" width="13.68" height="6.34" fill="#4e0909"/><rect x="346.34" y="441.65" width="13.68" height="6.34" fill="#0f2f13"/><rect x="359.97" y="441.65" width="13.68" height="6.34" fill="#255b2c"/><rect x="373.60" y="441.65" width="13.68" height="6.34" fill="#c01816"/><rect x="387.23" y="441.65" width="13.68" height="6.34" fill="#2c0505"/><rect x="400.86" y="441.65" width="13.68" height="6.34" fill="#080808"/><rect x="414.49" y="441.65" width="13.68" height="6.34" fill="#2c0505"/><rect x="428.11" y="441.65" width="13.68" height="6.34" fill="#2c0505"/><rect x="441.74" y="441.65" width="13.68" height="6.34" fill="#6e0e0d"/><rect x="455.37" y="441.65" width="13.68" height="6.34" fill="#6e0e0d"/><rect x="278.20" y="447.94" width="13.68" height="6.34" fill="#173f1d"/><rect x="291.83" y="447.94" width="13.68" height="6.34" fill="#173f1d"/><rect x="305.46" y="447.94" width="13.68" height="6.34" fill="#031405"/><rect x="319.09" y="447.94" width="13.68" height="6.34" fill="#173f1d"/><rect x="332.71" y="447.94" width="13.68" height="6.34" fill="#031405"/><rect x="346.34" y="447.94" width="13.68" height="6.34" fill="#255b2c"/><rect x="359.97" y="447.94" width="13.68" height="6.34" fill="#173f1d"/><rect x="373.60" y="447.94" width="13.68" height="6.34" fill="#c01816"/><rect x="387.23" y="447.94" width="13.68" height="6.34" fill="#2c0505"/><rect x="400.86" y="447.94" width="13.68" height="6.34" fill="#031405"/><rect x="414.49" y="447.94" width="13.68" height="6.34" fill="#2c0505"/><rect x="428.11" y="447.94" width="13.68" height="6.34" fill="#173f1d"/><rect x="441.74" y="447.94" width="13.68" height="6.34" fill="#a01513"/><rect x="455.37" y="447.94" width="13.68" height="6.34" fill="#a01513"/><rect x="278.20" y="454.23" width="13.68" height="6.34" fill="#173f1d"/><rect x="291.83" y="454.23" width="13.68" height="6.34" fill="#255b2c"/><rect x="305.46" y="454.23" width="13.68" height="6.34" fill="#062006"/><rect x="319.09" y="454.23" width="13.68" height="6.34" fill="#255b2c"/><rect x="332.71" y="454.23" width="13.68" height="6.34" fill="#031405"/><rect x="346.34" y="454.23" width="13.68" height="6.34" fill="#30703a"/><rect x="359.97" y="454.23" width="13.68" height="6.34" fill="#062006"/><rect x="373.60" y="454.23" width="13.68" height="6.34" fill="#6e0e0d"/><rect x="387.23" y="454.23" width="13.68" height="6.34" fill="#080808"/><rect x="400.86" y="454.23" width="13.68" height="6.34" fill="#0f2f13"/><rect x="414.49" y="454.23" width="13.68" height="6.34" fill="#6e0e0d"/><rect x="428.11" y="454.23" width="13.68" height="6.34" fill="#062006"/><rect x="441.74" y="454.23" width="13.68" height="6.34" fill="#4e0909"/><rect x="455.37" y="454.23" width="13.68" height="6.34" fill="#d02c1a"/><rect x="278.20" y="460.52" width="13.68" height="6.34" fill="#0f2f13"/><rect x="291.83" y="460.52" width="13.68" height="6.34" fill="#062006"/><rect x="305.46" y="460.52" width="13.68" height="6.34" fill="#0f2f13"/><rect x="319.09" y="460.52" width="13.68" height="6.34" fill="#0f2f13"/><rect x="332.71" y="460.52" width="13.68" height="6.34" fill="#0f2f13"/><rect x="346.34" y="460.52" width="13.68" height="6.34" fill="#0f2f13"/><rect x="359.97" y="460.52" width="13.68" height="6.34" fill="#0f2f13"/><rect x="373.60" y="460.52" width="13.68" height="6.34" fill="#0f2f13"/><rect x="387.23" y="460.52" width="13.68" height="6.34" fill="#c01816"/><rect x="400.86" y="460.52" width="13.68" height="6.34" fill="#080808"/><rect x="414.49" y="460.52" width="13.68" height="6.34" fill="#0f2f13"/><rect x="428.11" y="460.52" width="13.68" height="6.34" fill="#0f2f13"/><rect x="441.74" y="460.52" width="13.68" height="6.34" fill="#2c0505"/><rect x="455.37" y="460.52" width="13.68" height="6.34" fill="#d02c1a"/><rect x="278.20" y="466.80" width="13.68" height="6.34" fill="#255b2c"/><rect x="291.83" y="466.80" width="13.68" height="6.34" fill="#30703a"/><rect x="305.46" y="466.80" width="13.68" height="6.34" fill="#255b2c"/><rect x="319.09" y="466.80" width="13.68" height="6.34" fill="#6e0e0d"/><rect x="332.71" y="466.80" width="13.68" height="6.34" fill="#255b2c"/><rect x="346.34" y="466.80" width="13.68" height="6.34" fill="#30703a"/><rect x="359.97" y="466.80" width="13.68" height="6.34" fill="#0f2f13"/><rect x="373.60" y="466.80" width="13.68" height="6.34" fill="#080808"/><rect x="387.23" y="466.80" width="13.68" height="6.34" fill="#a01513"/><rect x="400.86" y="466.80" width="13.68" height="6.34" fill="#a01513"/><rect x="414.49" y="466.80" width="13.68" height="6.34" fill="#031405"/><rect x="428.11" y="466.80" width="13.68" height="6.34" fill="#080808"/><rect x="441.74" y="466.80" width="13.68" height="6.34" fill="#4e0909"/><rect x="455.37" y="466.80" width="13.68" height="6.34" fill="#4e0909"/><rect x="278.20" y="473.09" width="13.68" height="6.34" fill="#062006"/><rect x="291.83" y="473.09" width="13.68" height="6.34" fill="#062006"/><rect x="305.46" y="473.09" width="13.68" height="6.34" fill="#062006"/><rect x="319.09" y="473.09" width="13.68" height="6.34" fill="#d02c1a"/><rect x="332.71" y="473.09" width="13.68" height="6.34" fill="#062006"/><rect x="346.34" y="473.09" width="13.68" height="6.34" fill="#062006"/><rect x="359.97" y="473.09" width="13.68" height="6.34" fill="#062006"/><rect x="373.60" y="473.09" width="13.68" height="6.34" fill="#062006"/><rect x="387.23" y="473.09" width="13.68" height="6.34" fill="#062006"/><rect x="400.86" y="473.09" width="13.68" height="6.34" fill="#062006"/><rect x="414.49" y="473.09" width="13.68" height="6.34" fill="#062006"/><rect x="428.11" y="473.09" width="13.68" height="6.34" fill="#062006"/><rect x="441.74" y="473.09" width="13.68" height="6.34" fill="#a01513"/><rect x="455.37" y="473.09" width="13.68" height="6.34" fill="#080808"/><rect x="278.20" y="479.38" width="13.68" height="6.34" fill="#4e0909"/><rect x="291.83" y="479.38" width="13.68" height="6.34" fill="#6e0e0d"/><rect x="305.46" y="479.38" width="13.68" height="6.34" fill="#4e0909"/><rect x="319.09" y="479.38" width="13.68" height="6.34" fill="#2c0505"/><rect x="332.71" y="479.38" width="13.68" height="6.34" fill="#0f2f13"/><rect x="346.34" y="479.38" width="13.68" height="6.34" fill="#173f1d"/><rect x="359.97" y="479.38" width="13.68" height="6.34" fill="#173f1d"/><rect x="373.60" y="479.38" width="13.68" height="6.34" fill="#173f1d"/><rect x="387.23" y="479.38" width="13.68" height="6.34" fill="#080808"/><rect x="400.86" y="479.38" width="13.68" height="6.34" fill="#031405"/><rect x="414.49" y="479.38" width="13.68" height="6.34" fill="#c01816"/><rect x="428.11" y="479.38" width="13.68" height="6.34" fill="#173f1d"/><rect x="441.74" y="479.38" width="13.68" height="6.34" fill="#173f1d"/><rect x="455.37" y="479.38" width="13.68" height="6.34" fill="#173f1d"/><rect x="278.20" y="485.67" width="13.68" height="6.34" fill="#080808"/><rect x="291.83" y="485.67" width="13.68" height="6.34" fill="#2c0505"/><rect x="305.46" y="485.67" width="13.68" height="6.34" fill="#2c0505"/><rect x="319.09" y="485.67" width="13.68" height="6.34" fill="#2c0505"/><rect x="332.71" y="485.67" width="13.68" height="6.34" fill="#031405"/><rect x="346.34" y="485.67" width="13.68" height="6.34" fill="#062006"/><rect x="359.97" y="485.67" width="13.68" height="6.34" fill="#080808"/><rect x="373.60" y="485.67" width="13.68" height="6.34" fill="#173f1d"/><rect x="387.23" y="485.67" width="13.68" height="6.34" fill="#080808"/><rect x="400.86" y="485.67" width="13.68" height="6.34" fill="#173f1d"/><rect x="414.49" y="485.67" width="13.68" height="6.34" fill="#d02c1a"/><rect x="428.11" y="485.67" width="13.68" height="6.34" fill="#173f1d"/><rect x="441.74" y="485.67" width="13.68" height="6.34" fill="#173f1d"/><rect x="455.37" y="485.67" width="13.68" height="6.34" fill="#173f1d"/><rect x="278.20" y="491.96" width="13.68" height="6.34" fill="#173f1d"/><rect x="291.83" y="491.96" width="13.68" height="6.34" fill="#0f2f13"/><rect x="305.46" y="491.96" width="13.68" height="6.34" fill="#173f1d"/><rect x="319.09" y="491.96" width="13.68" height="6.34" fill="#173f1d"/><rect x="332.71" y="491.96" width="13.68" height="6.34" fill="#173f1d"/><rect x="346.34" y="491.96" width="13.68" height="6.34" fill="#080808"/><rect x="359.97" y="491.96" width="13.68" height="6.34" fill="#0f2f13"/><rect x="373.60" y="491.96" width="13.68" height="6.34" fill="#080808"/><rect x="387.23" y="491.96" width="13.68" height="6.34" fill="#062006"/><rect x="400.86" y="491.96" width="13.68" height="6.34" fill="#062006"/><rect x="414.49" y="491.96" width="13.68" height="6.34" fill="#d02c1a"/><rect x="428.11" y="491.96" width="13.68" height="6.34" fill="#6e0e0d"/><rect x="441.74" y="491.96" width="13.68" height="6.34" fill="#080808"/><rect x="455.37" y="491.96" width="13.68" height="6.34" fill="#080808"/><rect x="278.20" y="498.25" width="13.68" height="6.34" fill="#031405"/><rect x="291.83" y="498.25" width="13.68" height="6.34" fill="#062006"/><rect x="305.46" y="498.25" width="13.68" height="6.34" fill="#2c0505"/><rect x="319.09" y="498.25" width="13.68" height="6.34" fill="#a01513"/><rect x="332.71" y="498.25" width="13.68" height="6.34" fill="#4e0909"/><rect x="346.34" y="498.25" width="13.68" height="6.34" fill="#c01816"/><rect x="359.97" y="498.25" width="13.68" height="6.34" fill="#0f2f13"/><rect x="373.60" y="498.25" width="13.68" height="6.34" fill="#4e0909"/><rect x="387.23" y="498.25" width="13.68" height="6.34" fill="#062006"/><rect x="400.86" y="498.25" width="13.68" height="6.34" fill="#0f2f13"/><rect x="414.49" y="498.25" width="13.68" height="6.34" fill="#173f1d"/><rect x="428.11" y="498.25" width="13.68" height="6.34" fill="#173f1d"/><rect x="441.74" y="498.25" width="13.68" height="6.34" fill="#173f1d"/><rect x="455.37" y="498.25" width="13.68" height="6.34" fill="#173f1d"/><rect x="278.20" y="504.54" width="13.68" height="6.34" fill="#062006"/><rect x="291.83" y="504.54" width="13.68" height="6.34" fill="#062006"/><rect x="305.46" y="504.54" width="13.68" height="6.34" fill="#4e0909"/><rect x="319.09" y="504.54" width="13.68" height="6.34" fill="#062006"/><rect x="332.71" y="504.54" width="13.68" height="6.34" fill="#062006"/><rect x="346.34" y="504.54" width="13.68" height="6.34" fill="#d02c1a"/><rect x="359.97" y="504.54" width="13.68" height="6.34" fill="#062006"/><rect x="373.60" y="504.54" width="13.68" height="6.34" fill="#062006"/><rect x="387.23" y="504.54" width="13.68" height="6.34" fill="#062006"/><rect x="400.86" y="504.54" width="13.68" height="6.34" fill="#062006"/><rect x="414.49" y="504.54" width="13.68" height="6.34" fill="#062006"/><rect x="428.11" y="504.54" width="13.68" height="6.34" fill="#062006"/><rect x="441.74" y="504.54" width="13.68" height="6.34" fill="#062006"/><rect x="455.37" y="504.54" width="13.68" height="6.34" fill="#062006"/><rect x="278.20" y="510.83" width="13.68" height="6.34" fill="#062006"/><rect x="291.83" y="510.83" width="13.68" height="6.34" fill="#4e0909"/><rect x="305.46" y="510.83" width="13.68" height="6.34" fill="#173f1d"/><rect x="319.09" y="510.83" width="13.68" height="6.34" fill="#2c0505"/><rect x="332.71" y="510.83" width="13.68" height="6.34" fill="#2c0505"/><rect x="346.34" y="510.83" width="13.68" height="6.34" fill="#a01513"/><rect x="359.97" y="510.83" width="13.68" height="6.34" fill="#062006"/><rect x="373.60" y="510.83" width="13.68" height="6.34" fill="#0f2f13"/><rect x="387.23" y="510.83" width="13.68" height="6.34" fill="#a01513"/><rect x="400.86" y="510.83" width="13.68" height="6.34" fill="#6e0e0d"/><rect x="414.49" y="510.83" width="13.68" height="6.34" fill="#031405"/><rect x="428.11" y="510.83" width="13.68" height="6.34" fill="#30703a"/><rect x="441.74" y="510.83" width="13.68" height="6.34" fill="#30703a"/><rect x="455.37" y="510.83" width="13.68" height="6.34" fill="#255b2c"/><rect x="278.20" y="517.12" width="13.68" height="6.34" fill="#37843f"/><rect x="291.83" y="517.12" width="13.68" height="6.34" fill="#30703a"/><rect x="305.46" y="517.12" width="13.68" height="6.34" fill="#37843f"/><rect x="319.09" y="517.12" width="13.68" height="6.34" fill="#080808"/><rect x="332.71" y="517.12" width="13.68" height="6.34" fill="#4e0909"/><rect x="346.34" y="517.12" width="13.68" height="6.34" fill="#c01816"/><rect x="359.97" y="517.12" width="13.68" height="6.34" fill="#2c0505"/><rect x="373.60" y="517.12" width="13.68" height="6.34" fill="#0f2f13"/><rect x="387.23" y="517.12" width="13.68" height="6.34" fill="#2c0505"/><rect x="400.86" y="517.12" width="13.68" height="6.34" fill="#2c0505"/><rect x="414.49" y="517.12" width="13.68" height="6.34" fill="#4e0909"/><rect x="428.11" y="517.12" width="13.68" height="6.34" fill="#080808"/><rect x="441.74" y="517.12" width="13.68" height="6.34" fill="#080808"/><rect x="455.37" y="517.12" width="13.68" height="6.34" fill="#062006"/><rect x="278.20" y="523.41" width="13.68" height="6.34" fill="#062006"/><rect x="291.83" y="523.41" width="13.68" height="6.34" fill="#062006"/><rect x="305.46" y="523.41" width="13.68" height="6.34" fill="#4e0909"/><rect x="319.09" y="523.41" width="13.68" height="6.34" fill="#062006"/><rect x="332.71" y="523.41" width="13.68" height="6.34" fill="#062006"/><rect x="346.34" y="523.41" width="13.68" height="6.34" fill="#2c0505"/><rect x="359.97" y="523.41" width="13.68" height="6.34" fill="#d02c1a"/><rect x="373.60" y="523.41" width="13.68" height="6.34" fill="#062006"/><rect x="387.23" y="523.41" width="13.68" height="6.34" fill="#062006"/><rect x="400.86" y="523.41" width="13.68" height="6.34" fill="#062006"/><rect x="414.49" y="523.41" width="13.68" height="6.34" fill="#062006"/><rect x="428.11" y="523.41" width="13.68" height="6.34" fill="#062006"/><rect x="441.74" y="523.41" width="13.68" height="6.34" fill="#062006"/><rect x="455.37" y="523.41" width="13.68" height="6.34" fill="#062006"/><rect x="278.20" y="529.70" width="13.68" height="6.34" fill="#2c0505"/><rect x="291.83" y="529.70" width="13.68" height="6.34" fill="#6e0e0d"/><rect x="305.46" y="529.70" width="13.68" height="6.34" fill="#031405"/><rect x="319.09" y="529.70" width="13.68" height="6.34" fill="#173f1d"/><rect x="332.71" y="529.70" width="13.68" height="6.34" fill="#30703a"/><rect x="346.34" y="529.70" width="13.68" height="6.34" fill="#2c0505"/><rect x="359.97" y="529.70" width="13.68" height="6.34" fill="#a01513"/><rect x="373.60" y="529.70" width="13.68" height="6.34" fill="#062006"/><rect x="387.23" y="529.70" width="13.68" height="6.34" fill="#080808"/><rect x="400.86" y="529.70" width="13.68" height="6.34" fill="#a01513"/><rect x="414.49" y="529.70" width="13.68" height="6.34" fill="#080808"/><rect x="428.11" y="529.70" width="13.68" height="6.34" fill="#062006"/><rect x="441.74" y="529.70" width="13.68" height="6.34" fill="#37843f"/><rect x="455.37" y="529.70" width="13.68" height="6.34" fill="#255b2c"/><rect x="278.20" y="535.98" width="13.68" height="6.34" fill="#062006"/><rect x="291.83" y="535.98" width="13.68" height="6.34" fill="#2c0505"/><rect x="305.46" y="535.98" width="13.68" height="6.34" fill="#4e0909"/><rect x="319.09" y="535.98" width="13.68" height="6.34" fill="#062006"/><rect x="332.71" y="535.98" width="13.68" height="6.34" fill="#080808"/><rect x="346.34" y="535.98" width="13.68" height="6.34" fill="#173f1d"/><rect x="359.97" y="535.98" width="13.68" height="6.34" fill="#c01816"/><rect x="373.60" y="535.98" width="13.68" height="6.34" fill="#2c0505"/><rect x="387.23" y="535.98" width="13.68" height="6.34" fill="#031405"/><rect x="400.86" y="535.98" width="13.68" height="6.34" fill="#c01816"/><rect x="414.49" y="535.98" width="13.68" height="6.34" fill="#173f1d"/><rect x="428.11" y="535.98" width="13.68" height="6.34" fill="#173f1d"/><rect x="441.74" y="535.98" width="13.68" height="6.34" fill="#173f1d"/><rect x="455.37" y="535.98" width="13.68" height="6.34" fill="#173f1d"/><rect x="278.20" y="542.27" width="13.68" height="6.34" fill="#031405"/><rect x="291.83" y="542.27" width="13.68" height="6.34" fill="#031405"/><rect x="305.46" y="542.27" width="13.68" height="6.34" fill="#2c0505"/><rect x="319.09" y="542.27" width="13.68" height="6.34" fill="#4e0909"/><rect x="332.71" y="542.27" width="13.68" height="6.34" fill="#255b2c"/><rect x="346.34" y="542.27" width="13.68" height="6.34" fill="#080808"/><rect x="359.97" y="542.27" width="13.68" height="6.34" fill="#6e0e0d"/><rect x="373.60" y="542.27" width="13.68" height="6.34" fill="#4e0909"/><rect x="387.23" y="542.27" width="13.68" height="6.34" fill="#255b2c"/><rect x="400.86" y="542.27" width="13.68" height="6.34" fill="#d02c1a"/><rect x="414.49" y="542.27" width="13.68" height="6.34" fill="#062006"/><rect x="428.11" y="542.27" width="13.68" height="6.34" fill="#255b2c"/><rect x="441.74" y="542.27" width="13.68" height="6.34" fill="#255b2c"/><rect x="455.37" y="542.27" width="13.68" height="6.34" fill="#173f1d"/><rect x="278.20" y="548.56" width="13.68" height="6.34" fill="#255b2c"/><rect x="291.83" y="548.56" width="13.68" height="6.34" fill="#255b2c"/><rect x="305.46" y="548.56" width="13.68" height="6.34" fill="#173f1d"/><rect x="319.09" y="548.56" width="13.68" height="6.34" fill="#0f2f13"/><rect x="332.71" y="548.56" width="13.68" height="6.34" fill="#173f1d"/><rect x="346.34" y="548.56" width="13.68" height="6.34" fill="#080808"/><rect x="359.97" y="548.56" width="13.68" height="6.34" fill="#4e0909"/><rect x="373.60" y="548.56" width="13.68" height="6.34" fill="#6e0e0d"/><rect x="387.23" y="548.56" width="13.68" height="6.34" fill="#4e0909"/><rect x="400.86" y="548.56" width="13.68" height="6.34" fill="#6e0e0d"/><rect x="414.49" y="548.56" width="13.68" height="6.34" fill="#4e0909"/><rect x="428.11" y="548.56" width="13.68" height="6.34" fill="#173f1d"/><rect x="441.74" y="548.56" width="13.68" height="6.34" fill="#173f1d"/><rect x="455.37" y="548.56" width="13.68" height="6.34" fill="#062006"/><rect x="278.20" y="554.85" width="13.68" height="6.34" fill="#062006"/><rect x="291.83" y="554.85" width="13.68" height="6.34" fill="#062006"/><rect x="305.46" y="554.85" width="13.68" height="6.34" fill="#080808"/><rect x="319.09" y="554.85" width="13.68" height="6.34" fill="#2c0505"/><rect x="332.71" y="554.85" width="13.68" height="6.34" fill="#2c0505"/><rect x="346.34" y="554.85" width="13.68" height="6.34" fill="#080808"/><rect x="359.97" y="554.85" width="13.68" height="6.34" fill="#6e0e0d"/><rect x="373.60" y="554.85" width="13.68" height="6.34" fill="#6e0e0d"/><rect x="387.23" y="554.85" width="13.68" height="6.34" fill="#2c0505"/><rect x="400.86" y="554.85" width="13.68" height="6.34" fill="#2c0505"/><rect x="414.49" y="554.85" width="13.68" height="6.34" fill="#6e0e0d"/><rect x="428.11" y="554.85" width="13.68" height="6.34" fill="#37843f"/><rect x="441.74" y="554.85" width="13.68" height="6.34" fill="#255b2c"/><rect x="455.37" y="554.85" width="13.68" height="6.34" fill="#37843f"/><rect x="278.20" y="561.14" width="13.68" height="6.34" fill="#062006"/><rect x="291.83" y="561.14" width="13.68" height="6.34" fill="#173f1d"/><rect x="305.46" y="561.14" width="13.68" height="6.34" fill="#031405"/><rect x="319.09" y="561.14" width="13.68" height="6.34" fill="#6e0e0d"/><rect x="332.71" y="561.14" width="13.68" height="6.34" fill="#062006"/><rect x="346.34" y="561.14" width="13.68" height="6.34" fill="#6e0e0d"/><rect x="359.97" y="561.14" width="13.68" height="6.34" fill="#4e0909"/><rect x="373.60" y="561.14" width="13.68" height="6.34" fill="#6e0e0d"/><rect x="387.23" y="561.14" width="13.68" height="6.34" fill="#080808"/><rect x="400.86" y="561.14" width="13.68" height="6.34" fill="#4e0909"/><rect x="414.49" y="561.14" width="13.68" height="6.34" fill="#4e0909"/><rect x="428.11" y="561.14" width="13.68" height="6.34" fill="#30703a"/><rect x="441.74" y="561.14" width="13.68" height="6.34" fill="#30703a"/><rect x="455.37" y="561.14" width="13.68" height="6.34" fill="#30703a"/><rect x="278.20" y="567.43" width="13.68" height="6.34" fill="#c01816"/><rect x="291.83" y="567.43" width="13.68" height="6.34" fill="#2c0505"/><rect x="305.46" y="567.43" width="13.68" height="6.34" fill="#2c0505"/><rect x="319.09" y="567.43" width="13.68" height="6.34" fill="#031405"/><rect x="332.71" y="567.43" width="13.68" height="6.34" fill="#173f1d"/><rect x="346.34" y="567.43" width="13.68" height="6.34" fill="#173f1d"/><rect x="359.97" y="567.43" width="13.68" height="6.34" fill="#173f1d"/><rect x="373.60" y="567.43" width="13.68" height="6.34" fill="#4e0909"/><rect x="387.23" y="567.43" width="13.68" height="6.34" fill="#031405"/><rect x="400.86" y="567.43" width="13.68" height="6.34" fill="#c01816"/><rect x="414.49" y="567.43" width="13.68" height="6.34" fill="#0f2f13"/><rect x="428.11" y="567.43" width="13.68" height="6.34" fill="#0f2f13"/><rect x="441.74" y="567.43" width="13.68" height="6.34" fill="#0f2f13"/><rect x="455.37" y="567.43" width="13.68" height="6.34" fill="#0f2f13"/><rect x="278.20" y="573.72" width="13.68" height="6.34" fill="#a01513"/><rect x="291.83" y="573.72" width="13.68" height="6.34" fill="#031405"/><rect x="305.46" y="573.72" width="13.68" height="6.34" fill="#c01816"/><rect x="319.09" y="573.72" width="13.68" height="6.34" fill="#0f2f13"/><rect x="332.71" y="573.72" width="13.68" height="6.34" fill="#062006"/><rect x="346.34" y="573.72" width="13.68" height="6.34" fill="#080808"/><rect x="359.97" y="573.72" width="13.68" height="6.34" fill="#0f2f13"/><rect x="373.60" y="573.72" width="13.68" height="6.34" fill="#0f2f13"/><rect x="387.23" y="573.72" width="13.68" height="6.34" fill="#2c0505"/><rect x="400.86" y="573.72" width="13.68" height="6.34" fill="#6e0e0d"/><rect x="414.49" y="573.72" width="13.68" height="6.34" fill="#0f2f13"/><rect x="428.11" y="573.72" width="13.68" height="6.34" fill="#0f2f13"/><rect x="441.74" y="573.72" width="13.68" height="6.34" fill="#0f2f13"/><rect x="455.37" y="573.72" width="13.68" height="6.34" fill="#0f2f13"/><rect x="278.20" y="580.01" width="13.68" height="6.34" fill="#062006"/><rect x="291.83" y="580.01" width="13.68" height="6.34" fill="#d02c1a"/><rect x="305.46" y="580.01" width="13.68" height="6.34" fill="#a01513"/><rect x="319.09" y="580.01" width="13.68" height="6.34" fill="#0f2f13"/><rect x="332.71" y="580.01" width="13.68" height="6.34" fill="#0f2f13"/><rect x="346.34" y="580.01" width="13.68" height="6.34" fill="#0f2f13"/><rect x="359.97" y="580.01" width="13.68" height="6.34" fill="#a01513"/><rect x="373.60" y="580.01" width="13.68" height="6.34" fill="#0f2f13"/><rect x="387.23" y="580.01" width="13.68" height="6.34" fill="#0f2f13"/><rect x="400.86" y="580.01" width="13.68" height="6.34" fill="#0f2f13"/><rect x="414.49" y="580.01" width="13.68" height="6.34" fill="#0f2f13"/><rect x="428.11" y="580.01" width="13.68" height="6.34" fill="#0f2f13"/><rect x="441.74" y="580.01" width="13.68" height="6.34" fill="#0f2f13"/><rect x="455.37" y="580.01" width="13.68" height="6.34" fill="#0f2f13"/><rect x="278.20" y="586.30" width="13.68" height="6.34" fill="#2c0505"/><rect x="291.83" y="586.30" width="13.68" height="6.34" fill="#a01513"/><rect x="305.46" y="586.30" width="13.68" height="6.34" fill="#c01816"/><rect x="319.09" y="586.30" width="13.68" height="6.34" fill="#0f2f13"/><rect x="332.71" y="586.30" width="13.68" height="6.34" fill="#4e0909"/><rect x="346.34" y="586.30" width="13.68" height="6.34" fill="#031405"/><rect x="359.97" y="586.30" width="13.68" height="6.34" fill="#0f2f13"/><rect x="373.60" y="586.30" width="13.68" height="6.34" fill="#0f2f13"/><rect x="387.23" y="586.30" width="13.68" height="6.34" fill="#0f2f13"/><rect x="400.86" y="586.30" width="13.68" height="6.34" fill="#0f2f13"/><rect x="414.49" y="586.30" width="13.68" height="6.34" fill="#0f2f13"/><rect x="428.11" y="586.30" width="13.68" height="6.34" fill="#0f2f13"/><rect x="441.74" y="586.30" width="13.68" height="6.34" fill="#0f2f13"/><rect x="455.37" y="586.30" width="13.68" height="6.34" fill="#0f2f13"/><rect x="278.20" y="592.59" width="13.68" height="6.34" fill="#062006"/><rect x="291.83" y="592.59" width="13.68" height="6.34" fill="#4e0909"/><rect x="305.46" y="592.59" width="13.68" height="6.34" fill="#d02c1a"/><rect x="319.09" y="592.59" width="13.68" height="6.34" fill="#062006"/><rect x="332.71" y="592.59" width="13.68" height="6.34" fill="#062006"/><rect x="346.34" y="592.59" width="13.68" height="6.34" fill="#062006"/><rect x="359.97" y="592.59" width="13.68" height="6.34" fill="#062006"/><rect x="373.60" y="592.59" width="13.68" height="6.34" fill="#2c0505"/><rect x="387.23" y="592.59" width="13.68" height="6.34" fill="#062006"/><rect x="400.86" y="592.59" width="13.68" height="6.34" fill="#062006"/><rect x="414.49" y="592.59" width="13.68" height="6.34" fill="#062006"/><rect x="428.11" y="592.59" width="13.68" height="6.34" fill="#062006"/><rect x="441.74" y="592.59" width="13.68" height="6.34" fill="#062006"/><rect x="455.37" y="592.59" width="13.68" height="6.34" fill="#062006"/><rect x="278.20" y="598.88" width="13.68" height="6.34" fill="#c01816"/><rect x="291.83" y="598.88" width="13.68" height="6.34" fill="#2c0505"/><rect x="305.46" y="598.88" width="13.68" height="6.34" fill="#c01816"/><rect x="319.09" y="598.88" width="13.68" height="6.34" fill="#0f2f13"/><rect x="332.71" y="598.88" width="13.68" height="6.34" fill="#062006"/><rect x="346.34" y="598.88" width="13.68" height="6.34" fill="#2c0505"/><rect x="359.97" y="598.88" width="13.68" height="6.34" fill="#031405"/><rect x="373.60" y="598.88" width="13.68" height="6.34" fill="#031405"/><rect x="387.23" y="598.88" width="13.68" height="6.34" fill="#4e0909"/><rect x="400.86" y="598.88" width="13.68" height="6.34" fill="#0f2f13"/><rect x="414.49" y="598.88" width="13.68" height="6.34" fill="#0f2f13"/><rect x="428.11" y="598.88" width="13.68" height="6.34" fill="#255b2c"/><rect x="441.74" y="598.88" width="13.68" height="6.34" fill="#255b2c"/><rect x="455.37" y="598.88" width="13.68" height="6.34" fill="#255b2c"/><rect x="278.20" y="605.17" width="13.68" height="6.34" fill="#a01513"/><rect x="291.83" y="605.17" width="13.68" height="6.34" fill="#c01816"/><rect x="305.46" y="605.17" width="13.68" height="6.34" fill="#a01513"/><rect x="319.09" y="605.17" width="13.68" height="6.34" fill="#080808"/><rect x="332.71" y="605.17" width="13.68" height="6.34" fill="#255b2c"/><rect x="346.34" y="605.17" width="13.68" height="6.34" fill="#080808"/><rect x="359.97" y="605.17" width="13.68" height="6.34" fill="#080808"/><rect x="373.60" y="605.17" width="13.68" height="6.34" fill="#173f1d"/><rect x="387.23" y="605.17" width="13.68" height="6.34" fill="#2c0505"/><rect x="400.86" y="605.17" width="13.68" height="6.34" fill="#173f1d"/><rect x="414.49" y="605.17" width="13.68" height="6.34" fill="#173f1d"/><rect x="428.11" y="605.17" width="13.68" height="6.34" fill="#173f1d"/><rect x="441.74" y="605.17" width="13.68" height="6.34" fill="#173f1d"/><rect x="455.37" y="605.17" width="13.68" height="6.34" fill="#173f1d"/><rect x="278.20" y="611.45" width="13.68" height="6.34" fill="#4e0909"/><rect x="291.83" y="611.45" width="13.68" height="6.34" fill="#6e0e0d"/><rect x="305.46" y="611.45" width="13.68" height="6.34" fill="#a01513"/><rect x="319.09" y="611.45" width="13.68" height="6.34" fill="#255b2c"/><rect x="332.71" y="611.45" width="13.68" height="6.34" fill="#062006"/><rect x="346.34" y="611.45" width="13.68" height="6.34" fill="#4e0909"/><rect x="359.97" y="611.45" width="13.68" height="6.34" fill="#4e0909"/><rect x="373.60" y="611.45" width="13.68" height="6.34" fill="#062006"/><rect x="387.23" y="611.45" width="13.68" height="6.34" fill="#2c0505"/><rect x="400.86" y="611.45" width="13.68" height="6.34" fill="#2c0505"/><rect x="414.49" y="611.45" width="13.68" height="6.34" fill="#2c0505"/><rect x="428.11" y="611.45" width="13.68" height="6.34" fill="#30703a"/><rect x="441.74" y="611.45" width="13.68" height="6.34" fill="#30703a"/><rect x="455.37" y="611.45" width="13.68" height="6.34" fill="#30703a"/><rect x="278.20" y="617.74" width="13.68" height="6.34" fill="#255b2c"/><rect x="291.83" y="617.74" width="13.68" height="6.34" fill="#6e0e0d"/><rect x="305.46" y="617.74" width="13.68" height="6.34" fill="#4e0909"/><rect x="319.09" y="617.74" width="13.68" height="6.34" fill="#080808"/><rect x="332.71" y="617.74" width="13.68" height="6.34" fill="#2c0505"/><rect x="346.34" y="617.74" width="13.68" height="6.34" fill="#30703a"/><rect x="359.97" y="617.74" width="13.68" height="6.34" fill="#080808"/><rect x="373.60" y="617.74" width="13.68" height="6.34" fill="#a01513"/><rect x="387.23" y="617.74" width="13.68" height="6.34" fill="#6e0e0d"/><rect x="400.86" y="617.74" width="13.68" height="6.34" fill="#031405"/><rect x="414.49" y="617.74" width="13.68" height="6.34" fill="#6e0e0d"/><rect x="428.11" y="617.74" width="13.68" height="6.34" fill="#255b2c"/><rect x="441.74" y="617.74" width="13.68" height="6.34" fill="#255b2c"/><rect x="455.37" y="617.74" width="13.68" height="6.34" fill="#255b2c"/><rect x="278.20" y="624.03" width="13.68" height="6.34" fill="#080808"/><rect x="291.83" y="624.03" width="13.68" height="6.34" fill="#4e0909"/><rect x="305.46" y="624.03" width="13.68" height="6.34" fill="#2c0505"/><rect x="319.09" y="624.03" width="13.68" height="6.34" fill="#080808"/><rect x="332.71" y="624.03" width="13.68" height="6.34" fill="#a01513"/><rect x="346.34" y="624.03" width="13.68" height="6.34" fill="#30703a"/><rect x="359.97" y="624.03" width="13.68" height="6.34" fill="#062006"/><rect x="373.60" y="624.03" width="13.68" height="6.34" fill="#080808"/><rect x="387.23" y="624.03" width="13.68" height="6.34" fill="#a01513"/><rect x="400.86" y="624.03" width="13.68" height="6.34" fill="#6e0e0d"/><rect x="414.49" y="624.03" width="13.68" height="6.34" fill="#062006"/><rect x="428.11" y="624.03" width="13.68" height="6.34" fill="#255b2c"/><rect x="441.74" y="624.03" width="13.68" height="6.34" fill="#255b2c"/><rect x="455.37" y="624.03" width="13.68" height="6.34" fill="#255b2c"/><rect x="278.20" y="630.32" width="13.68" height="6.34" fill="#0f2f13"/><rect x="291.83" y="630.32" width="13.68" height="6.34" fill="#d02c1a"/><rect x="305.46" y="630.32" width="13.68" height="6.34" fill="#4e0909"/><rect x="319.09" y="630.32" width="13.68" height="6.34" fill="#a01513"/><rect x="332.71" y="630.32" width="13.68" height="6.34" fill="#062006"/><rect x="346.34" y="630.32" width="13.68" height="6.34" fill="#062006"/><rect x="359.97" y="630.32" width="13.68" height="6.34" fill="#062006"/><rect x="373.60" y="630.32" width="13.68" height="6.34" fill="#062006"/><rect x="387.23" y="630.32" width="13.68" height="6.34" fill="#2c0505"/><rect x="400.86" y="630.32" width="13.68" height="6.34" fill="#062006"/><rect x="414.49" y="630.32" width="13.68" height="6.34" fill="#062006"/><rect x="428.11" y="630.32" width="13.68" height="6.34" fill="#062006"/><rect x="441.74" y="630.32" width="13.68" height="6.34" fill="#062006"/><rect x="455.37" y="630.32" width="13.68" height="6.34" fill="#062006"/><rect x="278.20" y="636.61" width="13.68" height="6.34" fill="#080808"/><rect x="291.83" y="636.61" width="13.68" height="6.34" fill="#6e0e0d"/><rect x="305.46" y="636.61" width="13.68" height="6.34" fill="#4e0909"/><rect x="319.09" y="636.61" width="13.68" height="6.34" fill="#4e0909"/><rect x="332.71" y="636.61" width="13.68" height="6.34" fill="#062006"/><rect x="346.34" y="636.61" width="13.68" height="6.34" fill="#2c0505"/><rect x="359.97" y="636.61" width="13.68" height="6.34" fill="#062006"/><rect x="373.60" y="636.61" width="13.68" height="6.34" fill="#c01816"/><rect x="387.23" y="636.61" width="13.68" height="6.34" fill="#031405"/><rect x="400.86" y="636.61" width="13.68" height="6.34" fill="#062006"/><rect x="414.49" y="636.61" width="13.68" height="6.34" fill="#173f1d"/><rect x="428.11" y="636.61" width="13.68" height="6.34" fill="#173f1d"/><rect x="441.74" y="636.61" width="13.68" height="6.34" fill="#173f1d"/><rect x="455.37" y="636.61" width="13.68" height="6.34" fill="#173f1d"/></g>
<g transform="translate(472.6,0) scale(0.9,1)"><text x="0" y="358.94" font-size="6.1" fill="#333">Wdr90</text><text x="0" y="365.26" font-size="6.1" fill="#333">9530034E10Rik</text><text x="0" y="371.57" font-size="6.1" fill="#333">Prss41</text><text x="0" y="377.88" font-size="6.1" fill="#333">Pim1</text><text x="0" y="384.19" font-size="6.1" fill="#333">Neurl1b</text><text x="0" y="390.50" font-size="6.1" fill="#333">Pttg1</text><text x="0" y="396.81" font-size="6.1" fill="#333">Flicr</text><text x="0" y="403.12" font-size="6.1" fill="#333">Dok7</text><text x="0" y="409.43" font-size="6.1" fill="#333">Plau</text><text x="0" y="415.74" font-size="6.1" fill="#333">Slc22a8</text><text x="0" y="422.06" font-size="6.1" fill="#333">Stx1b</text><text x="0" y="428.37" font-size="6.1" fill="#333">Gm5</text><text x="0" y="434.68" font-size="6.1" fill="#333">Gm21887</text><text x="0" y="440.99" font-size="6.1" fill="#333">Ccr2</text><text x="0" y="447.30" font-size="6.1" fill="#333">Anxa3</text><text x="0" y="453.61" font-size="6.1" fill="#333">Elane</text><text x="0" y="459.92" font-size="6.1" fill="#333">Ly6c2</text><text x="0" y="466.23" font-size="6.1" fill="#333">Ighv6&#8722;3</text><text x="0" y="472.54" font-size="6.1" fill="#333">Podnl1</text><text x="0" y="478.86" font-size="6.1" fill="#333">Ighv10&#8722;1</text><text x="0" y="485.17" font-size="6.1" fill="#333">Edaradd</text><text x="0" y="491.48" font-size="6.1" fill="#333">B3galnt1</text><text x="0" y="497.79" font-size="6.1" fill="#333">Mpeg1</text><text x="0" y="504.10" font-size="6.1" fill="#333">Ttll7</text><text x="0" y="510.41" font-size="6.1" fill="#333">Igkv8&#8722;30</text><text x="0" y="516.72" font-size="6.1" fill="#333">Gm45148</text><text x="0" y="523.03" font-size="6.1" fill="#333">Gm47283</text><text x="0" y="529.35" font-size="6.1" fill="#333">Ighv1&#8722;78</text><text x="0" y="535.66" font-size="6.1" fill="#333">Gm11175</text><text x="0" y="541.97" font-size="6.1" fill="#333">Ggt6</text><text x="0" y="548.28" font-size="6.1" fill="#333">Atp7b</text><text x="0" y="554.59" font-size="6.1" fill="#333">Gm6377</text><text x="0" y="560.90" font-size="6.1" fill="#333">Gstcd</text><text x="0" y="567.21" font-size="6.1" fill="#333">Cd1d2</text><text x="0" y="573.52" font-size="6.1" fill="#333">Capn11</text><text x="0" y="579.83" font-size="6.1" fill="#333">Svep1</text><text x="0" y="586.15" font-size="6.1" fill="#333">Nes</text><text x="0" y="592.46" font-size="6.1" fill="#333">Larp6</text><text x="0" y="598.77" font-size="6.1" fill="#333">Ighv1&#8722;64</text><text x="0" y="605.08" font-size="6.1" fill="#333">9130008F23Rik</text><text x="0" y="611.39" font-size="6.1" fill="#333">Gm27202</text><text x="0" y="617.70" font-size="6.1" fill="#333">Grasp</text><text x="0" y="624.01" font-size="6.1" fill="#333">Hba&#8722;a1</text><text x="0" y="630.32" font-size="6.1" fill="#333">Pcdhb5</text><text x="0" y="636.63" font-size="6.1" fill="#333">Gm20388</text><text x="0" y="642.95" font-size="6.1" fill="#333">Tro</text></g>
<rect x="278.60" y="327.8" width="11.4" height="22.8" fill="#9a84a8"/>
<rect x="292.36" y="327.8" width="11.4" height="22.8" fill="#9a84a8"/>
<rect x="306.12" y="327.8" width="11.4" height="22.8" fill="#9a84a8"/>
<rect x="319.88" y="327.8" width="11.4" height="22.8" fill="#8e94b8"/>
<rect x="333.64" y="327.8" width="11.4" height="22.8" fill="#b8d49c"/>
<rect x="347.40" y="327.8" width="11.4" height="22.8" fill="#b8d49c"/>
<rect x="361.16" y="327.8" width="11.4" height="22.8" fill="#b8d49c"/>
<rect x="374.92" y="327.8" width="11.4" height="22.8" fill="#8e94b8"/>
<rect x="388.68" y="327.8" width="11.4" height="22.8" fill="#8e94b8"/>
<rect x="402.44" y="327.8" width="11.4" height="22.8" fill="#8e94b8"/>
<rect x="416.20" y="327.8" width="11.4" height="22.8" fill="#b8d49c"/>
<rect x="429.96" y="327.8" width="11.4" height="22.8" fill="#cd8e80"/>
<rect x="443.72" y="327.8" width="11.4" height="22.8" fill="#cd8e80"/>
<rect x="457.48" y="327.8" width="11.4" height="22.8" fill="#cd8e80"/>
<text x="293.9" y="341.3" font-size="7.0" text-anchor="start" fill="#333" font-weight="normal" textLength="9.6" lengthAdjust="spacingAndGlyphs" stroke="#333" stroke-width="0.05">WT</text>
<text x="336.3" y="337.4" font-size="7.0" fill="#333" stroke="#333" stroke-width="0.05" font-style="italic" textLength="35.4" lengthAdjust="spacingAndGlyphs">CALRdel52;</text>
<text x="343.0" y="345.4" font-size="7.4" fill="#333" stroke="#333" stroke-width="0.05" font-style="italic" textLength="11.4" lengthAdjust="spacingAndGlyphs">Calr</text><text x="357.2" y="341.5" font-size="5.0" fill="#333" textLength="5.6" lengthAdjust="spacingAndGlyphs">+/+</text>
<text x="377.2" y="337.4" font-size="7.0" fill="#333" stroke="#333" stroke-width="0.05" font-style="italic" textLength="34.6" lengthAdjust="spacingAndGlyphs">CALRdel52;</text>
<text x="385.1" y="345.4" font-size="7.4" fill="#333" stroke="#333" stroke-width="0.05" font-style="italic" textLength="11.4" lengthAdjust="spacingAndGlyphs">Calr</text><text x="399.4" y="341.5" font-size="5.0" fill="#333" textLength="5.2" lengthAdjust="spacingAndGlyphs">+/-</text>
<text x="439.6" y="341.2" font-size="7.2" fill="#333" stroke="#333" stroke-width="0.05" font-style="italic" textLength="11.6" lengthAdjust="spacingAndGlyphs">Calr</text><text x="453.8" y="337.5" font-size="5.0" fill="#333" textLength="4.8" lengthAdjust="spacingAndGlyphs">+/-</text>
<path d="M298.06,324.30 L298.06,313.30 L311.82,313.30 L311.82,324.30" fill="none" stroke="#3a3a3a" stroke-width="1"/>
<path d="M284.30,324.30 L284.30,308.20 L304.94,308.20 L304.94,313.30" fill="none" stroke="#3a3a3a" stroke-width="1"/>
<path d="M325.58,324.30 L325.58,302.20 L339.34,302.20 L339.34,324.30" fill="none" stroke="#3a3a3a" stroke-width="1"/>
<path d="M353.10,324.30 L353.10,301.20 L366.86,301.20 L366.86,324.30" fill="none" stroke="#3a3a3a" stroke-width="1"/>
<path d="M332.46,302.20 L332.46,297.60 L359.98,297.60 L359.98,301.20" fill="none" stroke="#3a3a3a" stroke-width="1"/>
<path d="M394.38,324.30 L394.38,308.50 L408.14,308.50 L408.14,324.30" fill="none" stroke="#3a3a3a" stroke-width="1"/>
<path d="M380.62,324.30 L380.62,299.70 L401.26,299.70 L401.26,308.50" fill="none" stroke="#3a3a3a" stroke-width="1"/>
<path d="M346.22,297.60 L346.22,293.30 L390.94,293.30 L390.94,299.70" fill="none" stroke="#3a3a3a" stroke-width="1"/>
<path d="M368.58,293.30 L368.58,292.40 L421.90,292.40 L421.90,324.30" fill="none" stroke="#3a3a3a" stroke-width="1"/>
<path d="M294.62,308.20 L294.62,287.40 L395.24,287.40 L395.24,292.40" fill="none" stroke="#3a3a3a" stroke-width="1"/>
<path d="M449.42,324.30 L449.42,315.40 L463.18,315.40 L463.18,324.30" fill="none" stroke="#3a3a3a" stroke-width="1"/>
<path d="M435.66,324.30 L435.66,310.00 L456.30,310.00 L456.30,315.40" fill="none" stroke="#3a3a3a" stroke-width="1"/>
<path d="M344.93,287.40 L344.93,273.60 L445.98,273.60 L445.98,310.00" fill="none" stroke="#3a3a3a" stroke-width="1"/>
<path d="M276.00,356.74 L259.70,356.74 L259.70,363.03 L276.00,363.03" fill="none" stroke="#3a3a3a" stroke-width="1"/>
<path d="M276.00,375.61 L270.50,375.61 L270.50,381.90 L276.00,381.90" fill="none" stroke="#3a3a3a" stroke-width="1"/>
<path d="M276.00,369.32 L266.50,369.32 L266.50,378.76 L270.50,378.76" fill="none" stroke="#3a3a3a" stroke-width="1"/>
<path d="M266.50,374.04 L262.00,374.04 L262.00,388.19 L276.00,388.19" fill="none" stroke="#3a3a3a" stroke-width="1"/>
<path d="M259.70,359.89 L250.50,359.89 L250.50,381.11 L262.00,381.11" fill="none" stroke="#3a3a3a" stroke-width="1"/>
<path d="M276.00,394.48 L258.20,394.48 L258.20,400.77 L276.00,400.77" fill="none" stroke="#3a3a3a" stroke-width="1"/>
<path d="M250.50,370.50 L237.20,370.50 L237.20,397.62 L258.20,397.62" fill="none" stroke="#3a3a3a" stroke-width="1"/>
<path d="M276.00,413.35 L257.20,413.35 L257.20,419.64 L276.00,419.64" fill="none" stroke="#3a3a3a" stroke-width="1"/>
<path d="M276.00,425.93 L257.70,425.93 L257.70,432.21 L276.00,432.21" fill="none" stroke="#3a3a3a" stroke-width="1"/>
<path d="M257.20,416.49 L243.50,416.49 L243.50,429.07 L257.70,429.07" fill="none" stroke="#3a3a3a" stroke-width="1"/>
<path d="M276.00,407.06 L238.50,407.06 L238.50,422.78 L243.50,422.78" fill="none" stroke="#3a3a3a" stroke-width="1"/>
<path d="M237.20,384.06 L231.50,384.06 L231.50,414.92 L238.50,414.92" fill="none" stroke="#3a3a3a" stroke-width="1"/>
<path d="M276.00,451.08 L267.70,451.08 L267.70,457.37 L276.00,457.37" fill="none" stroke="#3a3a3a" stroke-width="1"/>
<path d="M276.00,444.79 L259.50,444.79 L259.50,454.23 L267.70,454.23" fill="none" stroke="#3a3a3a" stroke-width="1"/>
<path d="M276.00,438.50 L244.60,438.50 L244.60,449.51 L259.50,449.51" fill="none" stroke="#3a3a3a" stroke-width="1"/>
<path d="M276.00,463.66 L249.50,463.66 L249.50,469.95 L276.00,469.95" fill="none" stroke="#3a3a3a" stroke-width="1"/>
<path d="M244.60,444.01 L235.70,444.01 L235.70,466.80 L249.50,466.80" fill="none" stroke="#3a3a3a" stroke-width="1"/>
<path d="M235.70,455.41 L224.60,455.41 L224.60,476.24 L276.00,476.24" fill="none" stroke="#3a3a3a" stroke-width="1"/>
<path d="M231.50,399.49 L223.00,399.49 L223.00,465.82 L224.60,465.82" fill="none" stroke="#3a3a3a" stroke-width="1"/>
<path d="M276.00,482.53 L264.80,482.53 L264.80,488.82 L276.00,488.82" fill="none" stroke="#3a3a3a" stroke-width="1"/>
<path d="M264.80,485.67 L239.10,485.67 L239.10,495.11 L276.00,495.11" fill="none" stroke="#3a3a3a" stroke-width="1"/>
<path d="M276.00,501.39 L248.40,501.39 L248.40,507.68 L276.00,507.68" fill="none" stroke="#3a3a3a" stroke-width="1"/>
<path d="M276.00,513.97 L241.90,513.97 L241.90,520.26 L276.00,520.26" fill="none" stroke="#3a3a3a" stroke-width="1"/>
<path d="M248.40,504.54 L235.00,504.54 L235.00,517.12 L241.90,517.12" fill="none" stroke="#3a3a3a" stroke-width="1"/>
<path d="M276.00,539.13 L262.50,539.13 L262.50,545.42 L276.00,545.42" fill="none" stroke="#3a3a3a" stroke-width="1"/>
<path d="M276.00,532.84 L252.20,532.84 L252.20,542.27 L262.50,542.27" fill="none" stroke="#3a3a3a" stroke-width="1"/>
<path d="M276.00,558.00 L264.50,558.00 L264.50,564.29 L276.00,564.29" fill="none" stroke="#3a3a3a" stroke-width="1"/>
<path d="M276.00,551.71 L251.40,551.71 L251.40,561.14 L264.50,561.14" fill="none" stroke="#3a3a3a" stroke-width="1"/>
<path d="M252.20,537.56 L238.80,537.56 L238.80,556.42 L251.40,556.42" fill="none" stroke="#3a3a3a" stroke-width="1"/>
<path d="M276.00,526.55 L234.70,526.55 L234.70,546.99 L238.80,546.99" fill="none" stroke="#3a3a3a" stroke-width="1"/>
<path d="M235.00,510.83 L221.50,510.83 L221.50,536.77 L234.70,536.77" fill="none" stroke="#3a3a3a" stroke-width="1"/>
<path d="M239.10,490.39 L214.60,490.39 L214.60,523.80 L221.50,523.80" fill="none" stroke="#3a3a3a" stroke-width="1"/>
<path d="M276.00,570.58 L255.50,570.58 L255.50,576.86 L276.00,576.86" fill="none" stroke="#3a3a3a" stroke-width="1"/>
<path d="M276.00,589.44 L258.30,589.44 L258.30,595.73 L276.00,595.73" fill="none" stroke="#3a3a3a" stroke-width="1"/>
<path d="M276.00,583.15 L253.40,583.15 L253.40,592.59 L258.30,592.59" fill="none" stroke="#3a3a3a" stroke-width="1"/>
<path d="M276.00,602.02 L262.30,602.02 L262.30,608.31 L276.00,608.31" fill="none" stroke="#3a3a3a" stroke-width="1"/>
<path d="M262.30,605.17 L257.40,605.17 L257.40,614.60 L276.00,614.60" fill="none" stroke="#3a3a3a" stroke-width="1"/>
<path d="M253.40,587.87 L242.40,587.87 L242.40,609.88 L257.40,609.88" fill="none" stroke="#3a3a3a" stroke-width="1"/>
<path d="M276.00,620.89 L250.10,620.89 L250.10,627.18 L276.00,627.18" fill="none" stroke="#3a3a3a" stroke-width="1"/>
<path d="M276.00,633.47 L244.90,633.47 L244.90,639.76 L276.00,639.76" fill="none" stroke="#3a3a3a" stroke-width="1"/>
<path d="M250.10,624.03 L236.40,624.03 L236.40,636.61 L244.90,636.61" fill="none" stroke="#3a3a3a" stroke-width="1"/>
<path d="M242.40,598.88 L231.80,598.88 L231.80,630.32 L236.40,630.32" fill="none" stroke="#3a3a3a" stroke-width="1"/>
<path d="M255.50,573.72 L227.20,573.72 L227.20,614.60 L231.80,614.60" fill="none" stroke="#3a3a3a" stroke-width="1"/>
<path d="M214.60,507.09 L210.20,507.09 L210.20,594.16 L227.20,594.16" fill="none" stroke="#3a3a3a" stroke-width="1"/>
<path d="M223.00,432.66 L204.30,432.66 L204.30,550.63 L210.20,550.63" fill="none" stroke="#3a3a3a" stroke-width="1"/>
<rect x="227.7" y="436.0" width="50.5" height="36.7" fill="#c3775d" fill-opacity="0.42"/>
<rect x="469.0" y="436.0" width="44.1" height="36.7" fill="#c3775d" fill-opacity="0.42"/>
<g shape-rendering="crispEdges" fill="#000"><rect x="1" y="0" width="1" height="651" fill-opacity="0.6"/><rect x="518" y="0" width="1" height="651" fill-opacity="0.65"/><rect x="0" y="1" width="520" height="1" fill-opacity="0.08"/><rect x="0" y="649" width="520" height="1" fill-opacity="0.4"/></g>
</svg>
</body></html>
